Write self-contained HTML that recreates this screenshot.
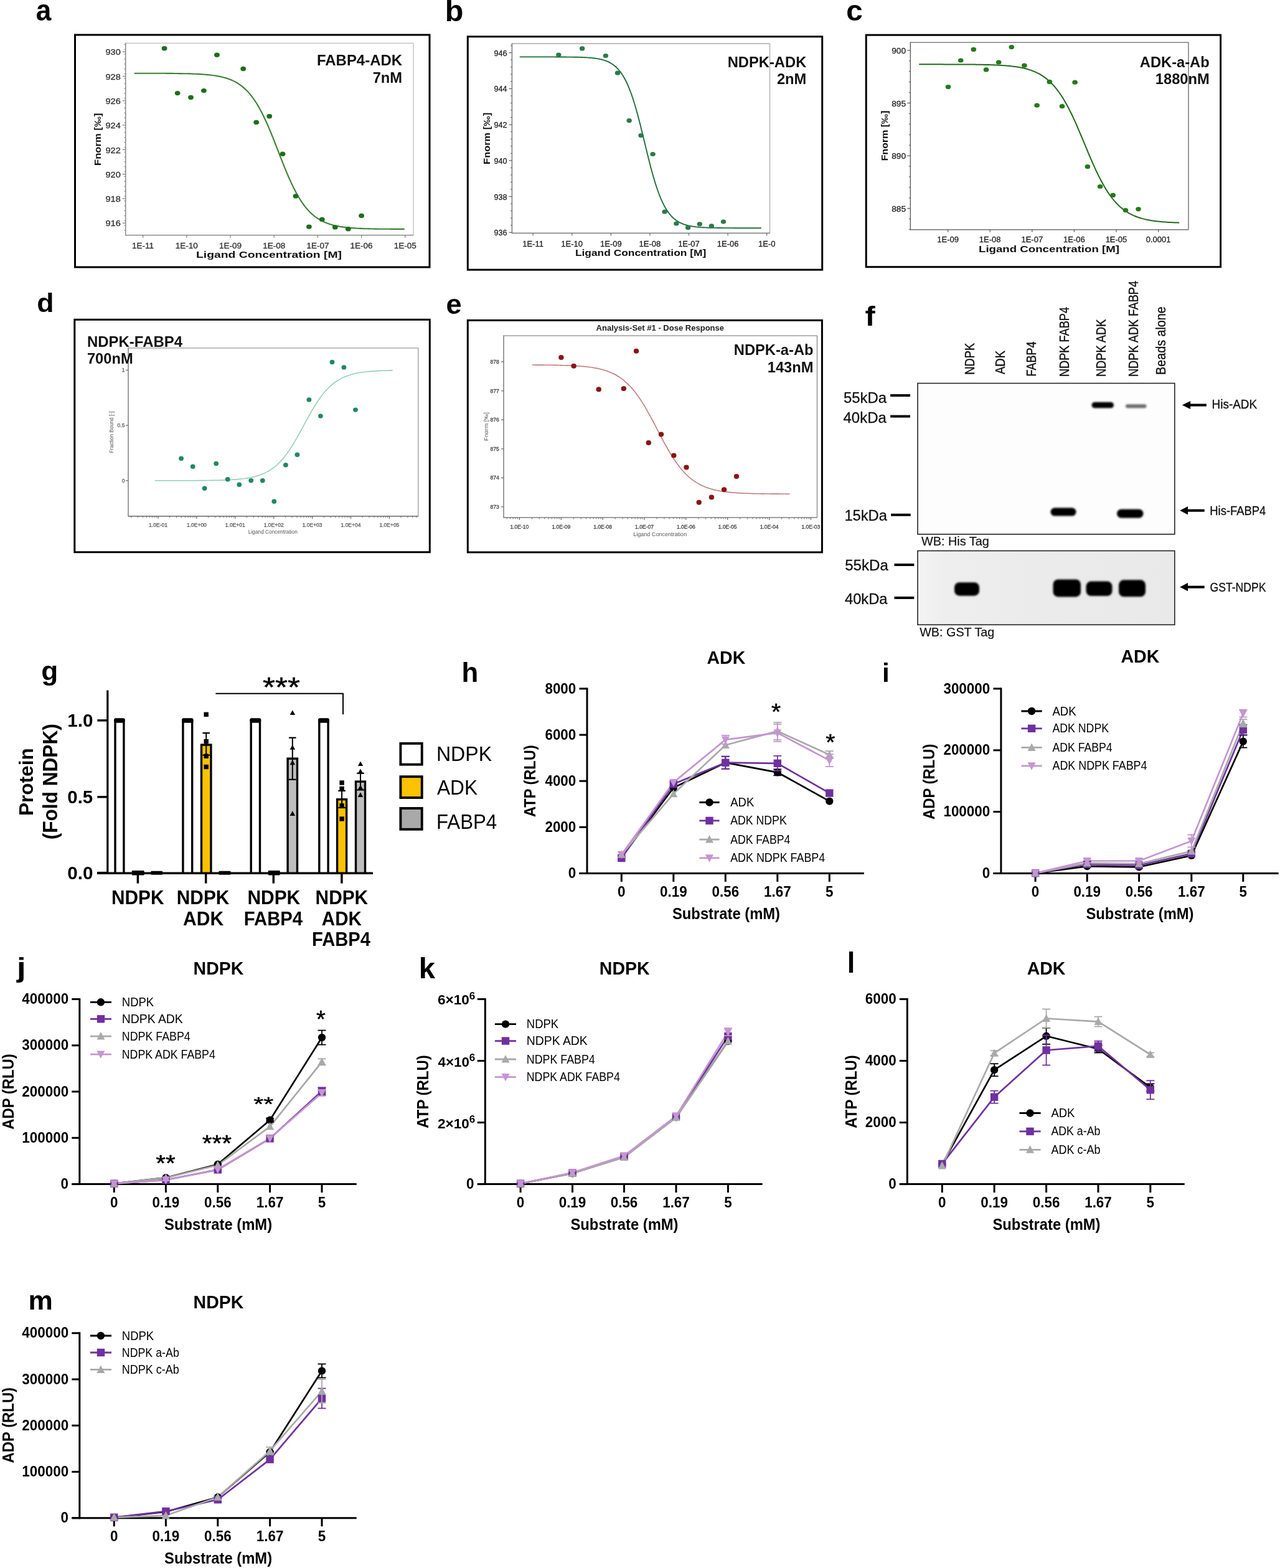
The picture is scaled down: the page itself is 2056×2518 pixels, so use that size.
<!DOCTYPE html>
<html><head><meta charset="utf-8"><title>Figure</title>
<style>html,body{margin:0;padding:0;background:#fff;} svg{display:block;} text{font-family:'Liberation Sans', Arial, sans-serif;}</style>
</head><body>
<svg width="2056" height="2518" viewBox="0 0 2056 2518">
<rect x="0" y="0" width="2056" height="2518" fill="#fff"/>
<rect x="120.5" y="56.0" width="569.5" height="373.0" fill="#fff" stroke="#000" stroke-width="3.0" />
<line x1="201.8" y1="69.4" x2="664.0" y2="69.4" stroke="#bdbdbd" stroke-width="1.3" />
<line x1="664.0" y1="69.4" x2="664.0" y2="377.7" stroke="#bdbdbd" stroke-width="1.3" />
<line x1="201.8" y1="68.8" x2="201.8" y2="378.3" stroke="#7a7a7a" stroke-width="1.3" />
<line x1="201.8" y1="377.7" x2="664.0" y2="377.7" stroke="#7a7a7a" stroke-width="1.3" />
<line x1="196.8" y1="358.2" x2="201.8" y2="358.2" stroke="#7a7a7a" stroke-width="1.2" />
<text x="193.8" y="363.4" font-size="13.5" text-anchor="end" fill="#333" textLength="24.3" lengthAdjust="spacingAndGlyphs" font-family="'Liberation Sans', 'DejaVu Sans', sans-serif" stroke="#333" stroke-width="0.35">916</text>
<line x1="196.8" y1="318.9" x2="201.8" y2="318.9" stroke="#7a7a7a" stroke-width="1.2" />
<text x="193.8" y="324.1" font-size="13.5" text-anchor="end" fill="#333" textLength="24.3" lengthAdjust="spacingAndGlyphs" font-family="'Liberation Sans', 'DejaVu Sans', sans-serif" stroke="#333" stroke-width="0.35">918</text>
<line x1="196.8" y1="279.6" x2="201.8" y2="279.6" stroke="#7a7a7a" stroke-width="1.2" />
<text x="193.8" y="284.8" font-size="13.5" text-anchor="end" fill="#333" textLength="24.3" lengthAdjust="spacingAndGlyphs" font-family="'Liberation Sans', 'DejaVu Sans', sans-serif" stroke="#333" stroke-width="0.35">920</text>
<line x1="196.8" y1="240.3" x2="201.8" y2="240.3" stroke="#7a7a7a" stroke-width="1.2" />
<text x="193.8" y="245.5" font-size="13.5" text-anchor="end" fill="#333" textLength="24.3" lengthAdjust="spacingAndGlyphs" font-family="'Liberation Sans', 'DejaVu Sans', sans-serif" stroke="#333" stroke-width="0.35">922</text>
<line x1="196.8" y1="201.0" x2="201.8" y2="201.0" stroke="#7a7a7a" stroke-width="1.2" />
<text x="193.8" y="206.2" font-size="13.5" text-anchor="end" fill="#333" textLength="24.3" lengthAdjust="spacingAndGlyphs" font-family="'Liberation Sans', 'DejaVu Sans', sans-serif" stroke="#333" stroke-width="0.35">924</text>
<line x1="196.8" y1="161.8" x2="201.8" y2="161.8" stroke="#7a7a7a" stroke-width="1.2" />
<text x="193.8" y="167.0" font-size="13.5" text-anchor="end" fill="#333" textLength="24.3" lengthAdjust="spacingAndGlyphs" font-family="'Liberation Sans', 'DejaVu Sans', sans-serif" stroke="#333" stroke-width="0.35">926</text>
<line x1="196.8" y1="122.5" x2="201.8" y2="122.5" stroke="#7a7a7a" stroke-width="1.2" />
<text x="193.8" y="127.7" font-size="13.5" text-anchor="end" fill="#333" textLength="24.3" lengthAdjust="spacingAndGlyphs" font-family="'Liberation Sans', 'DejaVu Sans', sans-serif" stroke="#333" stroke-width="0.35">928</text>
<line x1="196.8" y1="83.2" x2="201.8" y2="83.2" stroke="#7a7a7a" stroke-width="1.2" />
<text x="193.8" y="88.4" font-size="13.5" text-anchor="end" fill="#333" textLength="24.3" lengthAdjust="spacingAndGlyphs" font-family="'Liberation Sans', 'DejaVu Sans', sans-serif" stroke="#333" stroke-width="0.35">930</text>
<line x1="199.3" y1="369.9" x2="201.8" y2="369.9" stroke="#7a7a7a" stroke-width="1" />
<line x1="199.3" y1="362.1" x2="201.8" y2="362.1" stroke="#7a7a7a" stroke-width="1" />
<line x1="199.3" y1="354.2" x2="201.8" y2="354.2" stroke="#7a7a7a" stroke-width="1" />
<line x1="199.3" y1="346.4" x2="201.8" y2="346.4" stroke="#7a7a7a" stroke-width="1" />
<line x1="199.3" y1="338.5" x2="201.8" y2="338.5" stroke="#7a7a7a" stroke-width="1" />
<line x1="199.3" y1="330.7" x2="201.8" y2="330.7" stroke="#7a7a7a" stroke-width="1" />
<line x1="199.3" y1="322.8" x2="201.8" y2="322.8" stroke="#7a7a7a" stroke-width="1" />
<line x1="199.3" y1="315.0" x2="201.8" y2="315.0" stroke="#7a7a7a" stroke-width="1" />
<line x1="199.3" y1="307.1" x2="201.8" y2="307.1" stroke="#7a7a7a" stroke-width="1" />
<line x1="199.3" y1="299.2" x2="201.8" y2="299.2" stroke="#7a7a7a" stroke-width="1" />
<line x1="199.3" y1="291.4" x2="201.8" y2="291.4" stroke="#7a7a7a" stroke-width="1" />
<line x1="199.3" y1="283.5" x2="201.8" y2="283.5" stroke="#7a7a7a" stroke-width="1" />
<line x1="199.3" y1="275.7" x2="201.8" y2="275.7" stroke="#7a7a7a" stroke-width="1" />
<line x1="199.3" y1="267.8" x2="201.8" y2="267.8" stroke="#7a7a7a" stroke-width="1" />
<line x1="199.3" y1="260.0" x2="201.8" y2="260.0" stroke="#7a7a7a" stroke-width="1" />
<line x1="199.3" y1="252.1" x2="201.8" y2="252.1" stroke="#7a7a7a" stroke-width="1" />
<line x1="199.3" y1="244.2" x2="201.8" y2="244.2" stroke="#7a7a7a" stroke-width="1" />
<line x1="199.3" y1="236.4" x2="201.8" y2="236.4" stroke="#7a7a7a" stroke-width="1" />
<line x1="199.3" y1="228.5" x2="201.8" y2="228.5" stroke="#7a7a7a" stroke-width="1" />
<line x1="199.3" y1="220.7" x2="201.8" y2="220.7" stroke="#7a7a7a" stroke-width="1" />
<line x1="199.3" y1="212.8" x2="201.8" y2="212.8" stroke="#7a7a7a" stroke-width="1" />
<line x1="199.3" y1="205.0" x2="201.8" y2="205.0" stroke="#7a7a7a" stroke-width="1" />
<line x1="199.3" y1="197.1" x2="201.8" y2="197.1" stroke="#7a7a7a" stroke-width="1" />
<line x1="199.3" y1="189.3" x2="201.8" y2="189.3" stroke="#7a7a7a" stroke-width="1" />
<line x1="199.3" y1="181.4" x2="201.8" y2="181.4" stroke="#7a7a7a" stroke-width="1" />
<line x1="199.3" y1="173.5" x2="201.8" y2="173.5" stroke="#7a7a7a" stroke-width="1" />
<line x1="199.3" y1="165.7" x2="201.8" y2="165.7" stroke="#7a7a7a" stroke-width="1" />
<line x1="199.3" y1="157.8" x2="201.8" y2="157.8" stroke="#7a7a7a" stroke-width="1" />
<line x1="199.3" y1="150.0" x2="201.8" y2="150.0" stroke="#7a7a7a" stroke-width="1" />
<line x1="199.3" y1="142.1" x2="201.8" y2="142.1" stroke="#7a7a7a" stroke-width="1" />
<line x1="199.3" y1="134.3" x2="201.8" y2="134.3" stroke="#7a7a7a" stroke-width="1" />
<line x1="199.3" y1="126.4" x2="201.8" y2="126.4" stroke="#7a7a7a" stroke-width="1" />
<line x1="199.3" y1="118.6" x2="201.8" y2="118.6" stroke="#7a7a7a" stroke-width="1" />
<line x1="199.3" y1="110.7" x2="201.8" y2="110.7" stroke="#7a7a7a" stroke-width="1" />
<line x1="199.3" y1="102.8" x2="201.8" y2="102.8" stroke="#7a7a7a" stroke-width="1" />
<line x1="199.3" y1="95.0" x2="201.8" y2="95.0" stroke="#7a7a7a" stroke-width="1" />
<line x1="199.3" y1="87.1" x2="201.8" y2="87.1" stroke="#7a7a7a" stroke-width="1" />
<line x1="199.3" y1="79.3" x2="201.8" y2="79.3" stroke="#7a7a7a" stroke-width="1" />
<line x1="199.3" y1="71.4" x2="201.8" y2="71.4" stroke="#7a7a7a" stroke-width="1" />
<line x1="229.6" y1="377.7" x2="229.6" y2="381.7" stroke="#7a7a7a" stroke-width="1.2" />
<text x="229.6" y="398.5" font-size="13.5" text-anchor="middle" fill="#333" font-family="'Liberation Sans', 'DejaVu Sans', sans-serif" stroke="#333" stroke-width="0.35">1E-11</text>
<line x1="299.8" y1="377.7" x2="299.8" y2="381.7" stroke="#7a7a7a" stroke-width="1.2" />
<text x="299.8" y="398.5" font-size="13.5" text-anchor="middle" fill="#333" font-family="'Liberation Sans', 'DejaVu Sans', sans-serif" stroke="#333" stroke-width="0.35">1E-10</text>
<line x1="370.0" y1="377.7" x2="370.0" y2="381.7" stroke="#7a7a7a" stroke-width="1.2" />
<text x="370.0" y="398.5" font-size="13.5" text-anchor="middle" fill="#333" font-family="'Liberation Sans', 'DejaVu Sans', sans-serif" stroke="#333" stroke-width="0.35">1E-09</text>
<line x1="440.2" y1="377.7" x2="440.2" y2="381.7" stroke="#7a7a7a" stroke-width="1.2" />
<text x="440.2" y="398.5" font-size="13.5" text-anchor="middle" fill="#333" font-family="'Liberation Sans', 'DejaVu Sans', sans-serif" stroke="#333" stroke-width="0.35">1E-08</text>
<line x1="510.4" y1="377.7" x2="510.4" y2="381.7" stroke="#7a7a7a" stroke-width="1.2" />
<text x="510.4" y="398.5" font-size="13.5" text-anchor="middle" fill="#333" font-family="'Liberation Sans', 'DejaVu Sans', sans-serif" stroke="#333" stroke-width="0.35">1E-07</text>
<line x1="580.6" y1="377.7" x2="580.6" y2="381.7" stroke="#7a7a7a" stroke-width="1.2" />
<text x="580.6" y="398.5" font-size="13.5" text-anchor="middle" fill="#333" font-family="'Liberation Sans', 'DejaVu Sans', sans-serif" stroke="#333" stroke-width="0.35">1E-06</text>
<line x1="650.8" y1="377.7" x2="650.8" y2="381.7" stroke="#7a7a7a" stroke-width="1.2" />
<text x="650.8" y="398.5" font-size="13.5" text-anchor="middle" fill="#333" font-family="'Liberation Sans', 'DejaVu Sans', sans-serif" stroke="#333" stroke-width="0.35">1E-05</text>
<text x="432.0" y="414.0" font-size="15.5" font-weight="bold" text-anchor="middle" fill="#111" textLength="234.0" lengthAdjust="spacingAndGlyphs" font-family="'Liberation Sans', 'DejaVu Sans', sans-serif" >Ligand Concentration [M]</text>
<text x="162.0" y="223.8" font-size="15.5" font-weight="bold" text-anchor="middle" fill="#111" textLength="84.5" lengthAdjust="spacingAndGlyphs" transform="rotate(-90 162.0 223.8)" font-family="'Liberation Sans', 'DejaVu Sans', sans-serif" >Fnorm [‰]</text>
<polyline points="215.7,117.7 217.7,117.7 219.7,117.7 221.7,117.7 223.7,117.7 225.7,117.7 227.7,117.7 229.7,117.7 231.7,117.7 233.7,117.7 235.7,117.7 237.7,117.7 239.7,117.7 241.7,117.8 243.7,117.8 245.7,117.8 247.7,117.8 249.7,117.8 251.7,117.8 253.7,117.8 255.7,117.8 257.7,117.8 259.7,117.8 261.7,117.8 263.7,117.8 265.7,117.8 267.7,117.9 269.7,117.9 271.7,117.9 273.7,117.9 275.7,117.9 277.7,117.9 279.7,118.0 281.7,118.0 283.7,118.0 285.7,118.0 287.7,118.1 289.7,118.1 291.7,118.1 293.7,118.2 295.7,118.2 297.7,118.2 299.7,118.3 301.7,118.3 303.7,118.4 305.7,118.4 307.7,118.5 309.7,118.6 311.7,118.7 313.7,118.7 315.7,118.8 317.7,118.9 319.7,119.0 321.7,119.1 323.7,119.3 325.7,119.4 327.7,119.5 329.7,119.7 331.7,119.9 333.7,120.1 335.7,120.3 337.7,120.5 339.7,120.7 341.7,121.0 343.7,121.2 345.7,121.5 347.7,121.9 349.7,122.2 351.7,122.6 353.7,123.0 355.7,123.4 357.7,123.9 359.7,124.4 361.7,125.0 363.7,125.6 365.7,126.3 367.7,127.0 369.7,127.7 371.7,128.5 373.7,129.4 375.7,130.4 377.7,131.4 379.7,132.5 381.7,133.7 383.7,135.0 385.7,136.4 387.7,137.8 389.7,139.4 391.7,141.1 393.7,142.9 395.7,144.8 397.7,146.9 399.7,149.1 401.7,151.4 403.7,153.9 405.7,156.5 407.7,159.3 409.7,162.2 411.7,165.3 413.7,168.6 415.7,172.0 417.7,175.6 419.7,179.3 421.7,183.2 423.7,187.3 425.7,191.5 427.7,195.8 429.7,200.3 431.7,204.9 433.7,209.7 435.7,214.5 437.7,219.4 439.7,224.4 441.7,229.5 443.7,234.6 445.7,239.8 447.7,244.9 449.7,250.1 451.7,255.2 453.7,260.2 455.7,265.3 457.7,270.2 459.7,275.1 461.7,279.8 463.7,284.5 465.7,289.0 467.7,293.4 469.7,297.6 471.7,301.7 473.7,305.6 475.7,309.4 477.7,313.0 479.7,316.5 481.7,319.7 483.7,322.9 485.7,325.8 487.7,328.6 489.7,331.3 491.7,333.8 493.7,336.2 495.7,338.4 497.7,340.5 499.7,342.4 501.7,344.2 503.7,346.0 505.7,347.6 507.7,349.0 509.7,350.4 511.7,351.7 513.7,352.9 515.7,354.1 517.7,355.1 519.7,356.1 521.7,357.0 523.7,357.8 525.7,358.6 527.7,359.3 529.7,360.0 531.7,360.6 533.7,361.2 535.7,361.7 537.7,362.2 539.7,362.6 541.7,363.0 543.7,363.4 545.7,363.8 547.7,364.1 549.7,364.4 551.7,364.7 553.7,364.9 555.7,365.2 557.7,365.4 559.7,365.6 561.7,365.8 563.7,366.0 565.7,366.1 567.7,366.3 569.7,366.4 571.7,366.5 573.7,366.7 575.7,366.8 577.7,366.9 579.7,366.9 581.7,367.0 583.7,367.1 585.7,367.2 587.7,367.2 589.7,367.3 591.7,367.4 593.7,367.4 595.7,367.5 597.7,367.5 599.7,367.5 601.7,367.6 603.7,367.6 605.7,367.6 607.7,367.7 609.7,367.7 611.7,367.7 613.7,367.7 615.7,367.8 617.7,367.8 619.7,367.8 621.7,367.8 623.7,367.8 625.7,367.8 627.7,367.9 629.7,367.9 631.7,367.9 633.7,367.9 635.7,367.9 637.7,367.9 639.7,367.9 641.7,367.9 643.7,367.9 645.7,367.9 647.7,367.9 649.7,367.9" fill="none" stroke="#3a8030" stroke-width="2.1" stroke-linejoin="round" />
<ellipse cx="264.1" cy="77.8" rx="4.4" ry="3.7" fill="#1c6e1c"/>
<ellipse cx="285.1" cy="149.6" rx="4.4" ry="3.7" fill="#1c6e1c"/>
<ellipse cx="306.5" cy="156.5" rx="4.4" ry="3.7" fill="#1c6e1c"/>
<ellipse cx="327.4" cy="145.6" rx="4.4" ry="3.7" fill="#1c6e1c"/>
<ellipse cx="348.4" cy="88.3" rx="4.4" ry="3.7" fill="#1c6e1c"/>
<ellipse cx="390.7" cy="110.5" rx="4.4" ry="3.7" fill="#1c6e1c"/>
<ellipse cx="411.7" cy="196.4" rx="4.4" ry="3.7" fill="#1c6e1c"/>
<ellipse cx="432.7" cy="186.7" rx="4.4" ry="3.7" fill="#1c6e1c"/>
<ellipse cx="454.0" cy="247.2" rx="4.4" ry="3.7" fill="#1c6e1c"/>
<ellipse cx="475.0" cy="314.9" rx="4.4" ry="3.7" fill="#1c6e1c"/>
<ellipse cx="496.4" cy="364.1" rx="4.4" ry="3.7" fill="#1c6e1c"/>
<ellipse cx="517.3" cy="352.4" rx="4.4" ry="3.7" fill="#1c6e1c"/>
<ellipse cx="538.3" cy="364.9" rx="4.4" ry="3.7" fill="#1c6e1c"/>
<ellipse cx="559.3" cy="367.7" rx="4.4" ry="3.7" fill="#1c6e1c"/>
<ellipse cx="580.6" cy="346.4" rx="4.4" ry="3.7" fill="#1c6e1c"/>
<text x="646.0" y="104.8" font-size="23.7" font-weight="bold" text-anchor="end" fill="#111" textLength="137.0" lengthAdjust="spacingAndGlyphs" >FABP4-ADK</text>
<text x="646.0" y="132.8" font-size="23.7" font-weight="bold" text-anchor="end" fill="#111" >7nM</text>
<rect x="751.3" y="58.8" width="569.4" height="374.4" fill="#fff" stroke="#000" stroke-width="3.0" />
<line x1="822.4" y1="70.0" x2="1236.5" y2="70.0" stroke="#aaa" stroke-width="1.3" />
<line x1="1236.5" y1="70.0" x2="1236.5" y2="374.4" stroke="#aaa" stroke-width="1.3" />
<line x1="822.4" y1="69.4" x2="822.4" y2="375.0" stroke="#666" stroke-width="1.3" />
<line x1="822.4" y1="374.4" x2="1236.5" y2="374.4" stroke="#666" stroke-width="1.3" />
<line x1="817.4" y1="373.3" x2="822.4" y2="373.3" stroke="#666" stroke-width="1.2" />
<text x="814.5" y="378.3" font-size="13" text-anchor="end" fill="#222" textLength="21.0" lengthAdjust="spacingAndGlyphs" font-family="'Liberation Sans', 'DejaVu Sans', sans-serif" stroke="#222" stroke-width="0.3">936</text>
<line x1="817.4" y1="315.6" x2="822.4" y2="315.6" stroke="#666" stroke-width="1.2" />
<text x="814.5" y="320.6" font-size="13" text-anchor="end" fill="#222" textLength="21.0" lengthAdjust="spacingAndGlyphs" font-family="'Liberation Sans', 'DejaVu Sans', sans-serif" stroke="#222" stroke-width="0.3">938</text>
<line x1="817.4" y1="257.8" x2="822.4" y2="257.8" stroke="#666" stroke-width="1.2" />
<text x="814.5" y="262.8" font-size="13" text-anchor="end" fill="#222" textLength="21.0" lengthAdjust="spacingAndGlyphs" font-family="'Liberation Sans', 'DejaVu Sans', sans-serif" stroke="#222" stroke-width="0.3">940</text>
<line x1="817.4" y1="200.1" x2="822.4" y2="200.1" stroke="#666" stroke-width="1.2" />
<text x="814.5" y="205.1" font-size="13" text-anchor="end" fill="#222" textLength="21.0" lengthAdjust="spacingAndGlyphs" font-family="'Liberation Sans', 'DejaVu Sans', sans-serif" stroke="#222" stroke-width="0.3">942</text>
<line x1="817.4" y1="142.3" x2="822.4" y2="142.3" stroke="#666" stroke-width="1.2" />
<text x="814.5" y="147.3" font-size="13" text-anchor="end" fill="#222" textLength="21.0" lengthAdjust="spacingAndGlyphs" font-family="'Liberation Sans', 'DejaVu Sans', sans-serif" stroke="#222" stroke-width="0.3">944</text>
<line x1="817.4" y1="84.6" x2="822.4" y2="84.6" stroke="#666" stroke-width="1.2" />
<text x="814.5" y="89.6" font-size="13" text-anchor="end" fill="#222" textLength="21.0" lengthAdjust="spacingAndGlyphs" font-family="'Liberation Sans', 'DejaVu Sans', sans-serif" stroke="#222" stroke-width="0.3">946</text>
<line x1="819.9" y1="361.8" x2="822.4" y2="361.8" stroke="#666" stroke-width="1" />
<line x1="819.9" y1="350.2" x2="822.4" y2="350.2" stroke="#666" stroke-width="1" />
<line x1="819.9" y1="338.7" x2="822.4" y2="338.7" stroke="#666" stroke-width="1" />
<line x1="819.9" y1="327.1" x2="822.4" y2="327.1" stroke="#666" stroke-width="1" />
<line x1="819.9" y1="304.0" x2="822.4" y2="304.0" stroke="#666" stroke-width="1" />
<line x1="819.9" y1="292.5" x2="822.4" y2="292.5" stroke="#666" stroke-width="1" />
<line x1="819.9" y1="280.9" x2="822.4" y2="280.9" stroke="#666" stroke-width="1" />
<line x1="819.9" y1="269.4" x2="822.4" y2="269.4" stroke="#666" stroke-width="1" />
<line x1="819.9" y1="246.3" x2="822.4" y2="246.3" stroke="#666" stroke-width="1" />
<line x1="819.9" y1="234.7" x2="822.4" y2="234.7" stroke="#666" stroke-width="1" />
<line x1="819.9" y1="223.2" x2="822.4" y2="223.2" stroke="#666" stroke-width="1" />
<line x1="819.9" y1="211.6" x2="822.4" y2="211.6" stroke="#666" stroke-width="1" />
<line x1="819.9" y1="188.5" x2="822.4" y2="188.5" stroke="#666" stroke-width="1" />
<line x1="819.9" y1="177.0" x2="822.4" y2="177.0" stroke="#666" stroke-width="1" />
<line x1="819.9" y1="165.4" x2="822.4" y2="165.4" stroke="#666" stroke-width="1" />
<line x1="819.9" y1="153.9" x2="822.4" y2="153.9" stroke="#666" stroke-width="1" />
<line x1="819.9" y1="130.8" x2="822.4" y2="130.8" stroke="#666" stroke-width="1" />
<line x1="819.9" y1="119.2" x2="822.4" y2="119.2" stroke="#666" stroke-width="1" />
<line x1="819.9" y1="107.7" x2="822.4" y2="107.7" stroke="#666" stroke-width="1" />
<line x1="819.9" y1="96.1" x2="822.4" y2="96.1" stroke="#666" stroke-width="1" />
<line x1="819.9" y1="73.1" x2="822.4" y2="73.1" stroke="#666" stroke-width="1" />
<line x1="856.1" y1="374.4" x2="856.1" y2="378.4" stroke="#666" stroke-width="1.2" />
<text x="856.1" y="395.5" font-size="13" text-anchor="middle" fill="#222" font-family="'Liberation Sans', 'DejaVu Sans', sans-serif" stroke="#222" stroke-width="0.3">1E-11</text>
<line x1="918.7" y1="374.4" x2="918.7" y2="378.4" stroke="#666" stroke-width="1.2" />
<text x="918.7" y="395.5" font-size="13" text-anchor="middle" fill="#222" font-family="'Liberation Sans', 'DejaVu Sans', sans-serif" stroke="#222" stroke-width="0.3">1E-10</text>
<line x1="981.3" y1="374.4" x2="981.3" y2="378.4" stroke="#666" stroke-width="1.2" />
<text x="981.3" y="395.5" font-size="13" text-anchor="middle" fill="#222" font-family="'Liberation Sans', 'DejaVu Sans', sans-serif" stroke="#222" stroke-width="0.3">1E-09</text>
<line x1="1043.9" y1="374.4" x2="1043.9" y2="378.4" stroke="#666" stroke-width="1.2" />
<text x="1043.9" y="395.5" font-size="13" text-anchor="middle" fill="#222" font-family="'Liberation Sans', 'DejaVu Sans', sans-serif" stroke="#222" stroke-width="0.3">1E-08</text>
<line x1="1106.5" y1="374.4" x2="1106.5" y2="378.4" stroke="#666" stroke-width="1.2" />
<text x="1106.5" y="395.5" font-size="13" text-anchor="middle" fill="#222" font-family="'Liberation Sans', 'DejaVu Sans', sans-serif" stroke="#222" stroke-width="0.3">1E-07</text>
<line x1="1169.1" y1="374.4" x2="1169.1" y2="378.4" stroke="#666" stroke-width="1.2" />
<text x="1169.1" y="395.5" font-size="13" text-anchor="middle" fill="#222" font-family="'Liberation Sans', 'DejaVu Sans', sans-serif" stroke="#222" stroke-width="0.3">1E-06</text>
<line x1="1231.7" y1="374.4" x2="1231.7" y2="378.4" stroke="#666" stroke-width="1.2" />
<text x="1231.7" y="395.5" font-size="13" text-anchor="middle" fill="#222" font-family="'Liberation Sans', 'DejaVu Sans', sans-serif" stroke="#222" stroke-width="0.3">1E-0</text>
<text x="1029.1" y="410.7" font-size="14.5" font-weight="bold" text-anchor="middle" fill="#111" textLength="210.4" lengthAdjust="spacingAndGlyphs" font-family="'Liberation Sans', 'DejaVu Sans', sans-serif" >Ligand Concentration [M]</text>
<text x="787.0" y="222.4" font-size="14.5" font-weight="bold" text-anchor="middle" fill="#111" textLength="83.0" lengthAdjust="spacingAndGlyphs" transform="rotate(-90 787.0 222.4)" font-family="'Liberation Sans', 'DejaVu Sans', sans-serif" >Fnorm [‰]</text>
<polyline points="834.8,91.4 836.8,91.4 838.8,91.4 840.8,91.4 842.8,91.4 844.8,91.4 846.8,91.4 848.8,91.4 850.8,91.4 852.8,91.4 854.8,91.4 856.8,91.4 858.8,91.4 860.8,91.4 862.8,91.4 864.8,91.4 866.8,91.4 868.8,91.4 870.8,91.4 872.8,91.4 874.8,91.4 876.8,91.4 878.8,91.4 880.8,91.4 882.8,91.4 884.8,91.4 886.8,91.4 888.8,91.4 890.8,91.4 892.8,91.5 894.8,91.5 896.8,91.5 898.8,91.5 900.8,91.5 902.8,91.5 904.8,91.5 906.8,91.5 908.8,91.5 910.8,91.6 912.8,91.6 914.8,91.6 916.8,91.6 918.8,91.6 920.8,91.7 922.8,91.7 924.8,91.8 926.8,91.8 928.8,91.8 930.8,91.9 932.8,92.0 934.8,92.0 936.8,92.1 938.8,92.2 940.8,92.3 942.8,92.4 944.8,92.6 946.8,92.7 948.8,92.9 950.8,93.1 952.8,93.3 954.8,93.5 956.8,93.8 958.8,94.1 960.8,94.4 962.8,94.8 964.8,95.3 966.8,95.7 968.8,96.3 970.8,96.9 972.8,97.6 974.8,98.4 976.8,99.2 978.8,100.2 980.8,101.3 982.8,102.5 984.8,103.8 986.8,105.4 988.8,107.0 990.8,108.9 992.8,111.0 994.8,113.3 996.8,115.9 998.8,118.7 1000.8,121.8 1002.8,125.2 1004.8,129.0 1006.8,133.0 1008.8,137.5 1010.8,142.3 1012.8,147.5 1014.8,153.0 1016.8,159.0 1018.8,165.3 1020.8,172.0 1022.8,179.0 1024.8,186.4 1026.8,194.0 1028.8,201.8 1030.8,209.9 1032.8,218.1 1034.8,226.3 1036.8,234.6 1038.8,242.8 1040.8,251.0 1042.8,258.9 1044.8,266.7 1046.8,274.2 1048.8,281.4 1050.8,288.3 1052.8,294.9 1054.8,301.0 1056.8,306.8 1058.8,312.3 1060.8,317.3 1062.8,321.9 1064.8,326.2 1066.8,330.2 1068.8,333.8 1070.8,337.1 1072.8,340.1 1074.8,342.8 1076.8,345.2 1078.8,347.5 1080.8,349.5 1082.8,351.3 1084.8,352.9 1086.8,354.3 1088.8,355.6 1090.8,356.8 1092.8,357.8 1094.8,358.7 1096.8,359.6 1098.8,360.3 1100.8,361.0 1102.8,361.5 1104.8,362.1 1106.8,362.5 1108.8,362.9 1110.8,363.3 1112.8,363.6 1114.8,363.9 1116.8,364.2 1118.8,364.4 1120.8,364.6 1122.8,364.8 1124.8,364.9 1126.8,365.1 1128.8,365.2 1130.8,365.3 1132.8,365.4 1134.8,365.5 1136.8,365.6 1138.8,365.7 1140.8,365.7 1142.8,365.8 1144.8,365.8 1146.8,365.9 1148.8,365.9 1150.8,365.9 1152.8,366.0 1154.8,366.0 1156.8,366.0 1158.8,366.0 1160.8,366.1 1162.8,366.1 1164.8,366.1 1166.8,366.1 1168.8,366.1 1170.8,366.1 1172.8,366.1 1174.8,366.1 1176.8,366.1 1178.8,366.2 1180.8,366.2 1182.8,366.2 1184.8,366.2 1186.8,366.2 1188.8,366.2 1190.8,366.2 1192.8,366.2 1194.8,366.2 1196.8,366.2 1198.8,366.2 1200.8,366.2 1202.8,366.2 1204.8,366.2 1206.8,366.2 1208.8,366.2 1210.8,366.2 1212.8,366.2 1214.8,366.2 1216.8,366.2 1218.8,366.2 1220.8,366.2 1222.8,366.2" fill="none" stroke="#1f6e3a" stroke-width="1.9" stroke-linejoin="round" />
<ellipse cx="897.3" cy="88.0" rx="4.2" ry="3.6" fill="#2a7a48"/>
<ellipse cx="935.1" cy="77.9" rx="4.2" ry="3.6" fill="#2a7a48"/>
<ellipse cx="972.9" cy="89.5" rx="4.2" ry="3.6" fill="#2a7a48"/>
<ellipse cx="992.0" cy="117.2" rx="4.2" ry="3.6" fill="#2a7a48"/>
<ellipse cx="1010.7" cy="193.6" rx="4.2" ry="3.6" fill="#2a7a48"/>
<ellipse cx="1029.5" cy="217.5" rx="4.2" ry="3.6" fill="#2a7a48"/>
<ellipse cx="1048.6" cy="247.5" rx="4.2" ry="3.6" fill="#2a7a48"/>
<ellipse cx="1067.6" cy="340.0" rx="4.2" ry="3.6" fill="#2a7a48"/>
<ellipse cx="1086.4" cy="359.0" rx="4.2" ry="3.6" fill="#2a7a48"/>
<ellipse cx="1105.1" cy="365.4" rx="4.2" ry="3.6" fill="#2a7a48"/>
<ellipse cx="1123.8" cy="359.8" rx="4.2" ry="3.6" fill="#2a7a48"/>
<ellipse cx="1142.9" cy="362.8" rx="4.2" ry="3.6" fill="#2a7a48"/>
<ellipse cx="1162.0" cy="356.0" rx="4.2" ry="3.6" fill="#2a7a48"/>
<text x="1295.3" y="107.5" font-size="23.7" font-weight="bold" text-anchor="end" fill="#111" textLength="126.6" lengthAdjust="spacingAndGlyphs" >NDPK-ADK</text>
<text x="1295.3" y="134.8" font-size="23.7" font-weight="bold" text-anchor="end" fill="#111" >2nM</text>
<rect x="1391.2" y="56.2" width="569.4" height="372.5" fill="#fff" stroke="#000" stroke-width="3.0" />
<line x1="1462.3" y1="68.1" x2="1909.0" y2="68.1" stroke="#666" stroke-width="1.3" />
<line x1="1909.0" y1="68.1" x2="1909.0" y2="368.8" stroke="#666" stroke-width="1.3" />
<line x1="1462.3" y1="67.5" x2="1462.3" y2="369.4" stroke="#555" stroke-width="1.3" />
<line x1="1462.3" y1="368.8" x2="1909.0" y2="368.8" stroke="#555" stroke-width="1.3" />
<line x1="1457.3" y1="80.9" x2="1462.3" y2="80.9" stroke="#555" stroke-width="1.2" />
<text x="1455.0" y="85.9" font-size="13" text-anchor="end" fill="#222" textLength="22.8" lengthAdjust="spacingAndGlyphs" font-family="'Liberation Sans', 'DejaVu Sans', sans-serif" stroke="#222" stroke-width="0.3">900</text>
<line x1="1457.3" y1="165.5" x2="1462.3" y2="165.5" stroke="#555" stroke-width="1.2" />
<text x="1455.0" y="170.5" font-size="13" text-anchor="end" fill="#222" textLength="22.8" lengthAdjust="spacingAndGlyphs" font-family="'Liberation Sans', 'DejaVu Sans', sans-serif" stroke="#222" stroke-width="0.3">895</text>
<line x1="1457.3" y1="250.1" x2="1462.3" y2="250.1" stroke="#555" stroke-width="1.2" />
<text x="1455.0" y="255.1" font-size="13" text-anchor="end" fill="#222" textLength="22.8" lengthAdjust="spacingAndGlyphs" font-family="'Liberation Sans', 'DejaVu Sans', sans-serif" stroke="#222" stroke-width="0.3">890</text>
<line x1="1457.3" y1="334.7" x2="1462.3" y2="334.7" stroke="#555" stroke-width="1.2" />
<text x="1455.0" y="339.7" font-size="13" text-anchor="end" fill="#222" textLength="22.8" lengthAdjust="spacingAndGlyphs" font-family="'Liberation Sans', 'DejaVu Sans', sans-serif" stroke="#222" stroke-width="0.3">885</text>
<line x1="1459.8" y1="368.5" x2="1462.3" y2="368.5" stroke="#555" stroke-width="1" />
<line x1="1459.8" y1="351.6" x2="1462.3" y2="351.6" stroke="#555" stroke-width="1" />
<line x1="1459.8" y1="317.8" x2="1462.3" y2="317.8" stroke="#555" stroke-width="1" />
<line x1="1459.8" y1="300.9" x2="1462.3" y2="300.9" stroke="#555" stroke-width="1" />
<line x1="1459.8" y1="283.9" x2="1462.3" y2="283.9" stroke="#555" stroke-width="1" />
<line x1="1459.8" y1="267.0" x2="1462.3" y2="267.0" stroke="#555" stroke-width="1" />
<line x1="1459.8" y1="233.2" x2="1462.3" y2="233.2" stroke="#555" stroke-width="1" />
<line x1="1459.8" y1="216.3" x2="1462.3" y2="216.3" stroke="#555" stroke-width="1" />
<line x1="1459.8" y1="199.3" x2="1462.3" y2="199.3" stroke="#555" stroke-width="1" />
<line x1="1459.8" y1="182.4" x2="1462.3" y2="182.4" stroke="#555" stroke-width="1" />
<line x1="1459.8" y1="148.6" x2="1462.3" y2="148.6" stroke="#555" stroke-width="1" />
<line x1="1459.8" y1="131.7" x2="1462.3" y2="131.7" stroke="#555" stroke-width="1" />
<line x1="1459.8" y1="114.7" x2="1462.3" y2="114.7" stroke="#555" stroke-width="1" />
<line x1="1459.8" y1="97.8" x2="1462.3" y2="97.8" stroke="#555" stroke-width="1" />
<line x1="1522.6" y1="368.8" x2="1522.6" y2="372.8" stroke="#555" stroke-width="1.2" />
<text x="1522.6" y="389.4" font-size="13" text-anchor="middle" fill="#222" font-family="'Liberation Sans', 'DejaVu Sans', sans-serif" stroke="#222" stroke-width="0.3">1E-09</text>
<line x1="1590.2" y1="368.8" x2="1590.2" y2="372.8" stroke="#555" stroke-width="1.2" />
<text x="1590.2" y="389.4" font-size="13" text-anchor="middle" fill="#222" font-family="'Liberation Sans', 'DejaVu Sans', sans-serif" stroke="#222" stroke-width="0.3">1E-08</text>
<line x1="1657.8" y1="368.8" x2="1657.8" y2="372.8" stroke="#555" stroke-width="1.2" />
<text x="1657.8" y="389.4" font-size="13" text-anchor="middle" fill="#222" font-family="'Liberation Sans', 'DejaVu Sans', sans-serif" stroke="#222" stroke-width="0.3">1E-07</text>
<line x1="1725.4" y1="368.8" x2="1725.4" y2="372.8" stroke="#555" stroke-width="1.2" />
<text x="1725.4" y="389.4" font-size="13" text-anchor="middle" fill="#222" font-family="'Liberation Sans', 'DejaVu Sans', sans-serif" stroke="#222" stroke-width="0.3">1E-06</text>
<line x1="1793.0" y1="368.8" x2="1793.0" y2="372.8" stroke="#555" stroke-width="1.2" />
<text x="1793.0" y="389.4" font-size="13" text-anchor="middle" fill="#222" font-family="'Liberation Sans', 'DejaVu Sans', sans-serif" stroke="#222" stroke-width="0.3">1E-05</text>
<line x1="1860.6" y1="368.8" x2="1860.6" y2="372.8" stroke="#555" stroke-width="1.2" />
<text x="1860.6" y="389.4" font-size="13" text-anchor="middle" fill="#222" font-family="'Liberation Sans', 'DejaVu Sans', sans-serif" stroke="#222" stroke-width="0.3">0.0001</text>
<text x="1685.0" y="405.1" font-size="15" font-weight="bold" text-anchor="middle" fill="#111" textLength="226.0" lengthAdjust="spacingAndGlyphs" font-family="'Liberation Sans', 'DejaVu Sans', sans-serif" >Ligand Concentration [M]</text>
<text x="1425.5" y="218.0" font-size="15" font-weight="bold" text-anchor="middle" fill="#111" textLength="80.5" lengthAdjust="spacingAndGlyphs" transform="rotate(-90 1425.5 218.0)" font-family="'Liberation Sans', 'DejaVu Sans', sans-serif" >Fnorm [‰]</text>
<polyline points="1476.2,103.3 1478.2,103.3 1480.2,103.3 1482.2,103.3 1484.2,103.3 1486.2,103.3 1488.2,103.3 1490.2,103.3 1492.2,103.3 1494.2,103.3 1496.2,103.3 1498.2,103.3 1500.2,103.3 1502.2,103.3 1504.2,103.3 1506.2,103.3 1508.2,103.3 1510.2,103.3 1512.2,103.3 1514.2,103.3 1516.2,103.4 1518.2,103.4 1520.2,103.4 1522.2,103.4 1524.2,103.4 1526.2,103.4 1528.2,103.4 1530.2,103.4 1532.2,103.4 1534.2,103.4 1536.2,103.4 1538.2,103.4 1540.2,103.4 1542.2,103.4 1544.2,103.4 1546.2,103.5 1548.2,103.5 1550.2,103.5 1552.2,103.5 1554.2,103.5 1556.2,103.5 1558.2,103.5 1560.2,103.6 1562.2,103.6 1564.2,103.6 1566.2,103.6 1568.2,103.7 1570.2,103.7 1572.2,103.7 1574.2,103.8 1576.2,103.8 1578.2,103.8 1580.2,103.9 1582.2,103.9 1584.2,104.0 1586.2,104.0 1588.2,104.1 1590.2,104.1 1592.2,104.2 1594.2,104.3 1596.2,104.3 1598.2,104.4 1600.2,104.5 1602.2,104.6 1604.2,104.7 1606.2,104.8 1608.2,104.9 1610.2,105.1 1612.2,105.2 1614.2,105.3 1616.2,105.5 1618.2,105.7 1620.2,105.8 1622.2,106.0 1624.2,106.3 1626.2,106.5 1628.2,106.7 1630.2,107.0 1632.2,107.3 1634.2,107.6 1636.2,107.9 1638.2,108.3 1640.2,108.7 1642.2,109.1 1644.2,109.5 1646.2,110.0 1648.2,110.5 1650.2,111.0 1652.2,111.6 1654.2,112.3 1656.2,112.9 1658.2,113.7 1660.2,114.4 1662.2,115.3 1664.2,116.2 1666.2,117.1 1668.2,118.1 1670.2,119.2 1672.2,120.4 1674.2,121.6 1676.2,123.0 1678.2,124.4 1680.2,125.9 1682.2,127.5 1684.2,129.2 1686.2,131.0 1688.2,132.9 1690.2,135.0 1692.2,137.1 1694.2,139.4 1696.2,141.8 1698.2,144.3 1700.2,147.0 1702.2,149.8 1704.2,152.7 1706.2,155.8 1708.2,159.0 1710.2,162.4 1712.2,165.9 1714.2,169.5 1716.2,173.3 1718.2,177.2 1720.2,181.2 1722.2,185.3 1724.2,189.6 1726.2,193.9 1728.2,198.4 1730.2,203.0 1732.2,207.6 1734.2,212.3 1736.2,217.0 1738.2,221.8 1740.2,226.6 1742.2,231.4 1744.2,236.2 1746.2,241.0 1748.2,245.8 1750.2,250.5 1752.2,255.2 1754.2,259.8 1756.2,264.3 1758.2,268.7 1760.2,273.1 1762.2,277.3 1764.2,281.4 1766.2,285.4 1768.2,289.3 1770.2,293.0 1772.2,296.6 1774.2,300.1 1776.2,303.4 1778.2,306.6 1780.2,309.7 1782.2,312.6 1784.2,315.4 1786.2,318.0 1788.2,320.5 1790.2,322.9 1792.2,325.1 1794.2,327.3 1796.2,329.3 1798.2,331.2 1800.2,333.0 1802.2,334.6 1804.2,336.2 1806.2,337.7 1808.2,339.1 1810.2,340.4 1812.2,341.6 1814.2,342.8 1816.2,343.9 1818.2,344.9 1820.2,345.8 1822.2,346.7 1824.2,347.5 1826.2,348.3 1828.2,349.0 1830.2,349.7 1832.2,350.3 1834.2,350.9 1836.2,351.4 1838.2,351.9 1840.2,352.4 1842.2,352.8 1844.2,353.2 1846.2,353.6 1848.2,353.9 1850.2,354.3 1852.2,354.6 1854.2,354.9 1856.2,355.1 1858.2,355.4 1860.2,355.6 1862.2,355.8 1864.2,356.0 1866.2,356.2 1868.2,356.3 1870.2,356.5 1872.2,356.6 1874.2,356.8 1876.2,356.9 1878.2,357.0 1880.2,357.1 1882.2,357.2 1884.2,357.3 1886.2,357.4 1888.2,357.5 1890.2,357.6 1892.2,357.6 1894.2,357.7" fill="none" stroke="#1f6a18" stroke-width="2.0" stroke-linejoin="round" />
<ellipse cx="1523.0" cy="139.6" rx="4.3" ry="3.6" fill="#257a1a"/>
<ellipse cx="1543.2" cy="97.0" rx="4.3" ry="3.6" fill="#257a1a"/>
<ellipse cx="1563.8" cy="79.4" rx="4.3" ry="3.6" fill="#257a1a"/>
<ellipse cx="1584.0" cy="111.9" rx="4.3" ry="3.6" fill="#257a1a"/>
<ellipse cx="1604.2" cy="100.0" rx="4.3" ry="3.6" fill="#257a1a"/>
<ellipse cx="1624.8" cy="75.6" rx="4.3" ry="3.6" fill="#257a1a"/>
<ellipse cx="1645.4" cy="105.2" rx="4.3" ry="3.6" fill="#257a1a"/>
<ellipse cx="1665.6" cy="169.2" rx="4.3" ry="3.6" fill="#257a1a"/>
<ellipse cx="1685.8" cy="131.4" rx="4.3" ry="3.6" fill="#257a1a"/>
<ellipse cx="1706.0" cy="170.7" rx="4.3" ry="3.6" fill="#257a1a"/>
<ellipse cx="1726.6" cy="132.2" rx="4.3" ry="3.6" fill="#257a1a"/>
<ellipse cx="1746.9" cy="267.7" rx="4.3" ry="3.6" fill="#257a1a"/>
<ellipse cx="1767.1" cy="299.5" rx="4.3" ry="3.6" fill="#257a1a"/>
<ellipse cx="1787.7" cy="313.4" rx="4.3" ry="3.6" fill="#257a1a"/>
<ellipse cx="1807.9" cy="337.7" rx="4.3" ry="3.6" fill="#257a1a"/>
<ellipse cx="1828.5" cy="335.8" rx="4.3" ry="3.6" fill="#257a1a"/>
<text x="1942.7" y="107.5" font-size="23.7" font-weight="bold" text-anchor="end" fill="#111" >ADK-a-Ab</text>
<text x="1942.7" y="134.8" font-size="23.7" font-weight="bold" text-anchor="end" fill="#111" >1880nM</text>
<rect x="119.8" y="513.3" width="570.5" height="373.4" fill="#fff" stroke="#000" stroke-width="3.0" />
<line x1="206.0" y1="558.9" x2="671.8" y2="558.9" stroke="#999" stroke-width="1.3" />
<line x1="671.8" y1="558.9" x2="671.8" y2="829.0" stroke="#999" stroke-width="1.3" />
<line x1="206.0" y1="558.3" x2="206.0" y2="829.6" stroke="#666" stroke-width="1.3" />
<line x1="206.0" y1="829.0" x2="671.8" y2="829.0" stroke="#666" stroke-width="1.3" />
<line x1="202.0" y1="594.4" x2="206.0" y2="594.4" stroke="#666" stroke-width="1.2" />
<text x="200.4" y="597.4" font-size="8.5" text-anchor="end" fill="#555" font-family="'Liberation Sans', 'DejaVu Sans', sans-serif" stroke="#555" stroke-width="0.25">1</text>
<line x1="202.0" y1="683.1" x2="206.0" y2="683.1" stroke="#666" stroke-width="1.2" />
<text x="200.4" y="686.1" font-size="8.5" text-anchor="end" fill="#555" font-family="'Liberation Sans', 'DejaVu Sans', sans-serif" stroke="#555" stroke-width="0.25">0.5</text>
<line x1="202.0" y1="771.8" x2="206.0" y2="771.8" stroke="#666" stroke-width="1.2" />
<text x="200.4" y="774.8" font-size="8.5" text-anchor="end" fill="#555" font-family="'Liberation Sans', 'DejaVu Sans', sans-serif" stroke="#555" stroke-width="0.25">0</text>
<line x1="254.0" y1="829.0" x2="254.0" y2="833.0" stroke="#666" stroke-width="1.2" />
<text x="254.0" y="846.0" font-size="8.5" text-anchor="middle" fill="#555" font-family="'Liberation Sans', 'DejaVu Sans', sans-serif" stroke="#555" stroke-width="0.25">1.0E-01</text>
<line x1="315.9" y1="829.0" x2="315.9" y2="833.0" stroke="#666" stroke-width="1.2" />
<text x="315.9" y="846.0" font-size="8.5" text-anchor="middle" fill="#555" font-family="'Liberation Sans', 'DejaVu Sans', sans-serif" stroke="#555" stroke-width="0.25">1.0E+00</text>
<line x1="377.8" y1="829.0" x2="377.8" y2="833.0" stroke="#666" stroke-width="1.2" />
<text x="377.8" y="846.0" font-size="8.5" text-anchor="middle" fill="#555" font-family="'Liberation Sans', 'DejaVu Sans', sans-serif" stroke="#555" stroke-width="0.25">1.0E+01</text>
<line x1="439.7" y1="829.0" x2="439.7" y2="833.0" stroke="#666" stroke-width="1.2" />
<text x="439.7" y="846.0" font-size="8.5" text-anchor="middle" fill="#555" font-family="'Liberation Sans', 'DejaVu Sans', sans-serif" stroke="#555" stroke-width="0.25">1.0E+02</text>
<line x1="501.6" y1="829.0" x2="501.6" y2="833.0" stroke="#666" stroke-width="1.2" />
<text x="501.6" y="846.0" font-size="8.5" text-anchor="middle" fill="#555" font-family="'Liberation Sans', 'DejaVu Sans', sans-serif" stroke="#555" stroke-width="0.25">1.0E+03</text>
<line x1="563.5" y1="829.0" x2="563.5" y2="833.0" stroke="#666" stroke-width="1.2" />
<text x="563.5" y="846.0" font-size="8.5" text-anchor="middle" fill="#555" font-family="'Liberation Sans', 'DejaVu Sans', sans-serif" stroke="#555" stroke-width="0.25">1.0E+04</text>
<line x1="625.4" y1="829.0" x2="625.4" y2="833.0" stroke="#666" stroke-width="1.2" />
<text x="625.4" y="846.0" font-size="8.5" text-anchor="middle" fill="#555" font-family="'Liberation Sans', 'DejaVu Sans', sans-serif" stroke="#555" stroke-width="0.25">1.0E+05</text>
<line x1="210.7" y1="829.0" x2="210.7" y2="831.5" stroke="#666" stroke-width="1" />
<line x1="221.6" y1="829.0" x2="221.6" y2="831.5" stroke="#666" stroke-width="1" />
<line x1="229.4" y1="829.0" x2="229.4" y2="831.5" stroke="#666" stroke-width="1" />
<line x1="235.4" y1="829.0" x2="235.4" y2="831.5" stroke="#666" stroke-width="1" />
<line x1="240.3" y1="829.0" x2="240.3" y2="831.5" stroke="#666" stroke-width="1" />
<line x1="244.4" y1="829.0" x2="244.4" y2="831.5" stroke="#666" stroke-width="1" />
<line x1="248.0" y1="829.0" x2="248.0" y2="831.5" stroke="#666" stroke-width="1" />
<line x1="251.2" y1="829.0" x2="251.2" y2="831.5" stroke="#666" stroke-width="1" />
<line x1="272.6" y1="829.0" x2="272.6" y2="831.5" stroke="#666" stroke-width="1" />
<line x1="283.5" y1="829.0" x2="283.5" y2="831.5" stroke="#666" stroke-width="1" />
<line x1="291.3" y1="829.0" x2="291.3" y2="831.5" stroke="#666" stroke-width="1" />
<line x1="297.3" y1="829.0" x2="297.3" y2="831.5" stroke="#666" stroke-width="1" />
<line x1="302.2" y1="829.0" x2="302.2" y2="831.5" stroke="#666" stroke-width="1" />
<line x1="306.3" y1="829.0" x2="306.3" y2="831.5" stroke="#666" stroke-width="1" />
<line x1="309.9" y1="829.0" x2="309.9" y2="831.5" stroke="#666" stroke-width="1" />
<line x1="313.1" y1="829.0" x2="313.1" y2="831.5" stroke="#666" stroke-width="1" />
<line x1="334.5" y1="829.0" x2="334.5" y2="831.5" stroke="#666" stroke-width="1" />
<line x1="345.4" y1="829.0" x2="345.4" y2="831.5" stroke="#666" stroke-width="1" />
<line x1="353.2" y1="829.0" x2="353.2" y2="831.5" stroke="#666" stroke-width="1" />
<line x1="359.2" y1="829.0" x2="359.2" y2="831.5" stroke="#666" stroke-width="1" />
<line x1="364.1" y1="829.0" x2="364.1" y2="831.5" stroke="#666" stroke-width="1" />
<line x1="368.2" y1="829.0" x2="368.2" y2="831.5" stroke="#666" stroke-width="1" />
<line x1="371.8" y1="829.0" x2="371.8" y2="831.5" stroke="#666" stroke-width="1" />
<line x1="375.0" y1="829.0" x2="375.0" y2="831.5" stroke="#666" stroke-width="1" />
<line x1="396.4" y1="829.0" x2="396.4" y2="831.5" stroke="#666" stroke-width="1" />
<line x1="407.3" y1="829.0" x2="407.3" y2="831.5" stroke="#666" stroke-width="1" />
<line x1="415.1" y1="829.0" x2="415.1" y2="831.5" stroke="#666" stroke-width="1" />
<line x1="421.1" y1="829.0" x2="421.1" y2="831.5" stroke="#666" stroke-width="1" />
<line x1="426.0" y1="829.0" x2="426.0" y2="831.5" stroke="#666" stroke-width="1" />
<line x1="430.1" y1="829.0" x2="430.1" y2="831.5" stroke="#666" stroke-width="1" />
<line x1="433.7" y1="829.0" x2="433.7" y2="831.5" stroke="#666" stroke-width="1" />
<line x1="436.9" y1="829.0" x2="436.9" y2="831.5" stroke="#666" stroke-width="1" />
<line x1="458.3" y1="829.0" x2="458.3" y2="831.5" stroke="#666" stroke-width="1" />
<line x1="469.2" y1="829.0" x2="469.2" y2="831.5" stroke="#666" stroke-width="1" />
<line x1="477.0" y1="829.0" x2="477.0" y2="831.5" stroke="#666" stroke-width="1" />
<line x1="483.0" y1="829.0" x2="483.0" y2="831.5" stroke="#666" stroke-width="1" />
<line x1="487.9" y1="829.0" x2="487.9" y2="831.5" stroke="#666" stroke-width="1" />
<line x1="492.0" y1="829.0" x2="492.0" y2="831.5" stroke="#666" stroke-width="1" />
<line x1="495.6" y1="829.0" x2="495.6" y2="831.5" stroke="#666" stroke-width="1" />
<line x1="498.8" y1="829.0" x2="498.8" y2="831.5" stroke="#666" stroke-width="1" />
<line x1="520.2" y1="829.0" x2="520.2" y2="831.5" stroke="#666" stroke-width="1" />
<line x1="531.1" y1="829.0" x2="531.1" y2="831.5" stroke="#666" stroke-width="1" />
<line x1="538.9" y1="829.0" x2="538.9" y2="831.5" stroke="#666" stroke-width="1" />
<line x1="544.9" y1="829.0" x2="544.9" y2="831.5" stroke="#666" stroke-width="1" />
<line x1="549.8" y1="829.0" x2="549.8" y2="831.5" stroke="#666" stroke-width="1" />
<line x1="553.9" y1="829.0" x2="553.9" y2="831.5" stroke="#666" stroke-width="1" />
<line x1="557.5" y1="829.0" x2="557.5" y2="831.5" stroke="#666" stroke-width="1" />
<line x1="560.7" y1="829.0" x2="560.7" y2="831.5" stroke="#666" stroke-width="1" />
<line x1="582.1" y1="829.0" x2="582.1" y2="831.5" stroke="#666" stroke-width="1" />
<line x1="593.0" y1="829.0" x2="593.0" y2="831.5" stroke="#666" stroke-width="1" />
<line x1="600.8" y1="829.0" x2="600.8" y2="831.5" stroke="#666" stroke-width="1" />
<line x1="606.8" y1="829.0" x2="606.8" y2="831.5" stroke="#666" stroke-width="1" />
<line x1="611.7" y1="829.0" x2="611.7" y2="831.5" stroke="#666" stroke-width="1" />
<line x1="615.8" y1="829.0" x2="615.8" y2="831.5" stroke="#666" stroke-width="1" />
<line x1="619.4" y1="829.0" x2="619.4" y2="831.5" stroke="#666" stroke-width="1" />
<line x1="622.6" y1="829.0" x2="622.6" y2="831.5" stroke="#666" stroke-width="1" />
<line x1="644.0" y1="829.0" x2="644.0" y2="831.5" stroke="#666" stroke-width="1" />
<line x1="654.9" y1="829.0" x2="654.9" y2="831.5" stroke="#666" stroke-width="1" />
<line x1="662.7" y1="829.0" x2="662.7" y2="831.5" stroke="#666" stroke-width="1" />
<line x1="668.7" y1="829.0" x2="668.7" y2="831.5" stroke="#666" stroke-width="1" />
<text x="438.3" y="857.3" font-size="9" text-anchor="middle" fill="#555" textLength="79.0" lengthAdjust="spacingAndGlyphs" font-family="'Liberation Sans', 'DejaVu Sans', sans-serif" >Ligand Concentration</text>
<text x="181.5" y="694.0" font-size="8.5" text-anchor="middle" fill="#555" textLength="67.0" lengthAdjust="spacingAndGlyphs" transform="rotate(-90 181.5 694.0)" font-family="'Liberation Sans', 'DejaVu Sans', sans-serif" >Fraction Bound [-]</text>
<polyline points="248.8,771.8 250.8,771.8 252.8,771.8 254.8,771.8 256.8,771.8 258.8,771.8 260.8,771.8 262.8,771.8 264.8,771.8 266.8,771.8 268.8,771.8 270.8,771.8 272.8,771.8 274.8,771.8 276.8,771.8 278.8,771.8 280.8,771.8 282.8,771.8 284.8,771.8 286.8,771.8 288.8,771.8 290.8,771.8 292.8,771.7 294.8,771.7 296.8,771.7 298.8,771.7 300.8,771.7 302.8,771.7 304.8,771.7 306.8,771.7 308.8,771.7 310.8,771.7 312.8,771.7 314.8,771.7 316.8,771.7 318.8,771.6 320.8,771.6 322.8,771.6 324.8,771.6 326.8,771.6 328.8,771.6 330.8,771.5 332.8,771.5 334.8,771.5 336.8,771.5 338.8,771.4 340.8,771.4 342.8,771.4 344.8,771.3 346.8,771.3 348.8,771.3 350.8,771.2 352.8,771.2 354.8,771.1 356.8,771.1 358.8,771.0 360.8,770.9 362.8,770.8 364.8,770.8 366.8,770.7 368.8,770.6 370.8,770.5 372.8,770.3 374.8,770.2 376.8,770.1 378.8,769.9 380.8,769.8 382.8,769.6 384.8,769.4 386.8,769.2 388.8,769.0 390.8,768.7 392.8,768.5 394.8,768.2 396.8,767.9 398.8,767.6 400.8,767.2 402.8,766.8 404.8,766.4 406.8,766.0 408.8,765.5 410.8,764.9 412.8,764.4 414.8,763.7 416.8,763.1 418.8,762.4 420.8,761.6 422.8,760.8 424.8,759.9 426.8,758.9 428.8,757.9 430.8,756.8 432.8,755.6 434.8,754.3 436.8,752.9 438.8,751.5 440.8,749.9 442.8,748.3 444.8,746.5 446.8,744.7 448.8,742.7 450.8,740.6 452.8,738.4 454.8,736.1 456.8,733.7 458.8,731.1 460.8,728.5 462.8,725.7 464.8,722.8 466.8,719.8 468.8,716.6 470.8,713.4 472.8,710.1 474.8,706.7 476.8,703.3 478.8,699.7 480.8,696.1 482.8,692.5 484.8,688.8 486.8,685.1 488.8,681.4 490.8,677.7 492.8,674.1 494.8,670.4 496.8,666.8 498.8,663.3 500.8,659.8 502.8,656.4 504.8,653.1 506.8,649.9 508.8,646.7 510.8,643.7 512.8,640.8 514.8,638.0 516.8,635.3 518.8,632.8 520.8,630.3 522.8,628.0 524.8,625.8 526.8,623.7 528.8,621.7 530.8,619.8 532.8,618.1 534.8,616.4 536.8,614.9 538.8,613.4 540.8,612.0 542.8,610.7 544.8,609.6 546.8,608.4 548.8,607.4 550.8,606.4 552.8,605.5 554.8,604.7 556.8,603.9 558.8,603.2 560.8,602.5 562.8,601.9 564.8,601.3 566.8,600.8 568.8,600.3 570.8,599.8 572.8,599.4 574.8,599.0 576.8,598.7 578.8,598.3 580.8,598.0 582.8,597.7 584.8,597.5 586.8,597.2 588.8,597.0 590.8,596.8 592.8,596.6 594.8,596.4 596.8,596.3 598.8,596.1 600.8,596.0 602.8,595.9 604.8,595.7 606.8,595.6 608.8,595.5 610.8,595.5 612.8,595.4 614.8,595.3 616.8,595.2 618.8,595.2 620.8,595.1 622.8,595.0 624.8,595.0 626.8,594.9 628.8,594.9 630.8,594.9" fill="none" stroke="#93cfb2" stroke-width="1.6" stroke-linejoin="round" />
<ellipse cx="291.1" cy="736.3" rx="3.9" ry="3.7" fill="#1e8a5c"/>
<ellipse cx="309.7" cy="749.2" rx="3.9" ry="3.7" fill="#1e8a5c"/>
<ellipse cx="328.6" cy="784.3" rx="3.9" ry="3.7" fill="#1e8a5c"/>
<ellipse cx="347.2" cy="744.4" rx="3.9" ry="3.7" fill="#1e8a5c"/>
<ellipse cx="365.7" cy="769.8" rx="3.9" ry="3.7" fill="#1e8a5c"/>
<ellipse cx="384.3" cy="778.2" rx="3.9" ry="3.7" fill="#1e8a5c"/>
<ellipse cx="403.2" cy="771.8" rx="3.9" ry="3.7" fill="#1e8a5c"/>
<ellipse cx="421.8" cy="771.8" rx="3.9" ry="3.7" fill="#1e8a5c"/>
<ellipse cx="440.3" cy="805.2" rx="3.9" ry="3.7" fill="#1e8a5c"/>
<ellipse cx="458.9" cy="746.8" rx="3.9" ry="3.7" fill="#1e8a5c"/>
<ellipse cx="477.4" cy="730.2" rx="3.9" ry="3.7" fill="#1e8a5c"/>
<ellipse cx="496.4" cy="641.9" rx="3.9" ry="3.7" fill="#1e8a5c"/>
<ellipse cx="514.9" cy="668.1" rx="3.9" ry="3.7" fill="#1e8a5c"/>
<ellipse cx="533.5" cy="581.5" rx="3.9" ry="3.7" fill="#1e8a5c"/>
<ellipse cx="552.4" cy="589.9" rx="3.9" ry="3.7" fill="#1e8a5c"/>
<ellipse cx="571.0" cy="658.1" rx="3.9" ry="3.7" fill="#1e8a5c"/>
<text x="139.9" y="556.9" font-size="23.7" font-weight="bold" fill="#111" textLength="153.2" lengthAdjust="spacingAndGlyphs" >NDPK-FABP4</text>
<text x="139.9" y="584.3" font-size="23.7" font-weight="bold" fill="#111" >700nM</text>
<rect x="751.3" y="514.4" width="569.1" height="372.5" fill="#fff" stroke="#000" stroke-width="3.0" />
<line x1="809.0" y1="539.1" x2="1312.5" y2="539.1" stroke="#888" stroke-width="1.3" />
<line x1="1312.5" y1="539.1" x2="1312.5" y2="831.1" stroke="#888" stroke-width="1.3" />
<line x1="809.0" y1="538.5" x2="809.0" y2="831.7" stroke="#666" stroke-width="1.3" />
<line x1="809.0" y1="831.1" x2="1312.5" y2="831.1" stroke="#666" stroke-width="1.3" />
<line x1="805.0" y1="813.9" x2="809.0" y2="813.9" stroke="#666" stroke-width="1.2" />
<text x="801.8" y="816.9" font-size="8.5" text-anchor="end" fill="#444" font-family="'Liberation Sans', 'DejaVu Sans', sans-serif" stroke="#444" stroke-width="0.3">873</text>
<line x1="805.0" y1="767.3" x2="809.0" y2="767.3" stroke="#666" stroke-width="1.2" />
<text x="801.8" y="770.3" font-size="8.5" text-anchor="end" fill="#444" font-family="'Liberation Sans', 'DejaVu Sans', sans-serif" stroke="#444" stroke-width="0.3">874</text>
<line x1="805.0" y1="720.7" x2="809.0" y2="720.7" stroke="#666" stroke-width="1.2" />
<text x="801.8" y="723.7" font-size="8.5" text-anchor="end" fill="#444" font-family="'Liberation Sans', 'DejaVu Sans', sans-serif" stroke="#444" stroke-width="0.3">875</text>
<line x1="805.0" y1="674.2" x2="809.0" y2="674.2" stroke="#666" stroke-width="1.2" />
<text x="801.8" y="677.2" font-size="8.5" text-anchor="end" fill="#444" font-family="'Liberation Sans', 'DejaVu Sans', sans-serif" stroke="#444" stroke-width="0.3">876</text>
<line x1="805.0" y1="627.6" x2="809.0" y2="627.6" stroke="#666" stroke-width="1.2" />
<text x="801.8" y="630.6" font-size="8.5" text-anchor="end" fill="#444" font-family="'Liberation Sans', 'DejaVu Sans', sans-serif" stroke="#444" stroke-width="0.3">877</text>
<line x1="805.0" y1="581.0" x2="809.0" y2="581.0" stroke="#666" stroke-width="1.2" />
<text x="801.8" y="584.0" font-size="8.5" text-anchor="end" fill="#444" font-family="'Liberation Sans', 'DejaVu Sans', sans-serif" stroke="#444" stroke-width="0.3">878</text>
<line x1="834.4" y1="831.1" x2="834.4" y2="835.1" stroke="#666" stroke-width="1.2" />
<text x="834.4" y="848.7" font-size="8.5" text-anchor="middle" fill="#444" font-family="'Liberation Sans', 'DejaVu Sans', sans-serif" stroke="#444" stroke-width="0.3">1.0E-10</text>
<line x1="901.3" y1="831.1" x2="901.3" y2="835.1" stroke="#666" stroke-width="1.2" />
<text x="901.3" y="848.7" font-size="8.5" text-anchor="middle" fill="#444" font-family="'Liberation Sans', 'DejaVu Sans', sans-serif" stroke="#444" stroke-width="0.3">1.0E-09</text>
<line x1="968.1" y1="831.1" x2="968.1" y2="835.1" stroke="#666" stroke-width="1.2" />
<text x="968.1" y="848.7" font-size="8.5" text-anchor="middle" fill="#444" font-family="'Liberation Sans', 'DejaVu Sans', sans-serif" stroke="#444" stroke-width="0.3">1.0E-08</text>
<line x1="1035.0" y1="831.1" x2="1035.0" y2="835.1" stroke="#666" stroke-width="1.2" />
<text x="1035.0" y="848.7" font-size="8.5" text-anchor="middle" fill="#444" font-family="'Liberation Sans', 'DejaVu Sans', sans-serif" stroke="#444" stroke-width="0.3">1.0E-07</text>
<line x1="1101.8" y1="831.1" x2="1101.8" y2="835.1" stroke="#666" stroke-width="1.2" />
<text x="1101.8" y="848.7" font-size="8.5" text-anchor="middle" fill="#444" font-family="'Liberation Sans', 'DejaVu Sans', sans-serif" stroke="#444" stroke-width="0.3">1.0E-06</text>
<line x1="1168.7" y1="831.1" x2="1168.7" y2="835.1" stroke="#666" stroke-width="1.2" />
<text x="1168.7" y="848.7" font-size="8.5" text-anchor="middle" fill="#444" font-family="'Liberation Sans', 'DejaVu Sans', sans-serif" stroke="#444" stroke-width="0.3">1.0E-05</text>
<line x1="1235.6" y1="831.1" x2="1235.6" y2="835.1" stroke="#666" stroke-width="1.2" />
<text x="1235.6" y="848.7" font-size="8.5" text-anchor="middle" fill="#444" font-family="'Liberation Sans', 'DejaVu Sans', sans-serif" stroke="#444" stroke-width="0.3">1.0E-04</text>
<line x1="1302.4" y1="831.1" x2="1302.4" y2="835.1" stroke="#666" stroke-width="1.2" />
<text x="1302.4" y="848.7" font-size="8.5" text-anchor="middle" fill="#444" font-family="'Liberation Sans', 'DejaVu Sans', sans-serif" stroke="#444" stroke-width="0.3">1.0E-03</text>
<line x1="814.3" y1="831.1" x2="814.3" y2="833.6" stroke="#666" stroke-width="1" />
<line x1="819.6" y1="831.1" x2="819.6" y2="833.6" stroke="#666" stroke-width="1" />
<line x1="824.0" y1="831.1" x2="824.0" y2="833.6" stroke="#666" stroke-width="1" />
<line x1="827.9" y1="831.1" x2="827.9" y2="833.6" stroke="#666" stroke-width="1" />
<line x1="831.3" y1="831.1" x2="831.3" y2="833.6" stroke="#666" stroke-width="1" />
<line x1="854.5" y1="831.1" x2="854.5" y2="833.6" stroke="#666" stroke-width="1" />
<line x1="866.3" y1="831.1" x2="866.3" y2="833.6" stroke="#666" stroke-width="1" />
<line x1="874.7" y1="831.1" x2="874.7" y2="833.6" stroke="#666" stroke-width="1" />
<line x1="881.1" y1="831.1" x2="881.1" y2="833.6" stroke="#666" stroke-width="1" />
<line x1="886.4" y1="831.1" x2="886.4" y2="833.6" stroke="#666" stroke-width="1" />
<line x1="890.9" y1="831.1" x2="890.9" y2="833.6" stroke="#666" stroke-width="1" />
<line x1="894.8" y1="831.1" x2="894.8" y2="833.6" stroke="#666" stroke-width="1" />
<line x1="898.2" y1="831.1" x2="898.2" y2="833.6" stroke="#666" stroke-width="1" />
<line x1="921.4" y1="831.1" x2="921.4" y2="833.6" stroke="#666" stroke-width="1" />
<line x1="933.2" y1="831.1" x2="933.2" y2="833.6" stroke="#666" stroke-width="1" />
<line x1="941.5" y1="831.1" x2="941.5" y2="833.6" stroke="#666" stroke-width="1" />
<line x1="948.0" y1="831.1" x2="948.0" y2="833.6" stroke="#666" stroke-width="1" />
<line x1="953.3" y1="831.1" x2="953.3" y2="833.6" stroke="#666" stroke-width="1" />
<line x1="957.8" y1="831.1" x2="957.8" y2="833.6" stroke="#666" stroke-width="1" />
<line x1="961.6" y1="831.1" x2="961.6" y2="833.6" stroke="#666" stroke-width="1" />
<line x1="965.1" y1="831.1" x2="965.1" y2="833.6" stroke="#666" stroke-width="1" />
<line x1="988.2" y1="831.1" x2="988.2" y2="833.6" stroke="#666" stroke-width="1" />
<line x1="1000.0" y1="831.1" x2="1000.0" y2="833.6" stroke="#666" stroke-width="1" />
<line x1="1008.4" y1="831.1" x2="1008.4" y2="833.6" stroke="#666" stroke-width="1" />
<line x1="1014.9" y1="831.1" x2="1014.9" y2="833.6" stroke="#666" stroke-width="1" />
<line x1="1020.1" y1="831.1" x2="1020.1" y2="833.6" stroke="#666" stroke-width="1" />
<line x1="1024.6" y1="831.1" x2="1024.6" y2="833.6" stroke="#666" stroke-width="1" />
<line x1="1028.5" y1="831.1" x2="1028.5" y2="833.6" stroke="#666" stroke-width="1" />
<line x1="1031.9" y1="831.1" x2="1031.9" y2="833.6" stroke="#666" stroke-width="1" />
<line x1="1055.1" y1="831.1" x2="1055.1" y2="833.6" stroke="#666" stroke-width="1" />
<line x1="1066.9" y1="831.1" x2="1066.9" y2="833.6" stroke="#666" stroke-width="1" />
<line x1="1075.2" y1="831.1" x2="1075.2" y2="833.6" stroke="#666" stroke-width="1" />
<line x1="1081.7" y1="831.1" x2="1081.7" y2="833.6" stroke="#666" stroke-width="1" />
<line x1="1087.0" y1="831.1" x2="1087.0" y2="833.6" stroke="#666" stroke-width="1" />
<line x1="1091.5" y1="831.1" x2="1091.5" y2="833.6" stroke="#666" stroke-width="1" />
<line x1="1095.4" y1="831.1" x2="1095.4" y2="833.6" stroke="#666" stroke-width="1" />
<line x1="1098.8" y1="831.1" x2="1098.8" y2="833.6" stroke="#666" stroke-width="1" />
<line x1="1122.0" y1="831.1" x2="1122.0" y2="833.6" stroke="#666" stroke-width="1" />
<line x1="1133.7" y1="831.1" x2="1133.7" y2="833.6" stroke="#666" stroke-width="1" />
<line x1="1142.1" y1="831.1" x2="1142.1" y2="833.6" stroke="#666" stroke-width="1" />
<line x1="1148.6" y1="831.1" x2="1148.6" y2="833.6" stroke="#666" stroke-width="1" />
<line x1="1153.9" y1="831.1" x2="1153.9" y2="833.6" stroke="#666" stroke-width="1" />
<line x1="1158.3" y1="831.1" x2="1158.3" y2="833.6" stroke="#666" stroke-width="1" />
<line x1="1162.2" y1="831.1" x2="1162.2" y2="833.6" stroke="#666" stroke-width="1" />
<line x1="1165.6" y1="831.1" x2="1165.6" y2="833.6" stroke="#666" stroke-width="1" />
<line x1="1188.8" y1="831.1" x2="1188.8" y2="833.6" stroke="#666" stroke-width="1" />
<line x1="1200.6" y1="831.1" x2="1200.6" y2="833.6" stroke="#666" stroke-width="1" />
<line x1="1209.0" y1="831.1" x2="1209.0" y2="833.6" stroke="#666" stroke-width="1" />
<line x1="1215.4" y1="831.1" x2="1215.4" y2="833.6" stroke="#666" stroke-width="1" />
<line x1="1220.7" y1="831.1" x2="1220.7" y2="833.6" stroke="#666" stroke-width="1" />
<line x1="1225.2" y1="831.1" x2="1225.2" y2="833.6" stroke="#666" stroke-width="1" />
<line x1="1229.1" y1="831.1" x2="1229.1" y2="833.6" stroke="#666" stroke-width="1" />
<line x1="1232.5" y1="831.1" x2="1232.5" y2="833.6" stroke="#666" stroke-width="1" />
<line x1="1255.7" y1="831.1" x2="1255.7" y2="833.6" stroke="#666" stroke-width="1" />
<line x1="1267.5" y1="831.1" x2="1267.5" y2="833.6" stroke="#666" stroke-width="1" />
<line x1="1275.8" y1="831.1" x2="1275.8" y2="833.6" stroke="#666" stroke-width="1" />
<line x1="1282.3" y1="831.1" x2="1282.3" y2="833.6" stroke="#666" stroke-width="1" />
<line x1="1287.6" y1="831.1" x2="1287.6" y2="833.6" stroke="#666" stroke-width="1" />
<line x1="1292.1" y1="831.1" x2="1292.1" y2="833.6" stroke="#666" stroke-width="1" />
<line x1="1295.9" y1="831.1" x2="1295.9" y2="833.6" stroke="#666" stroke-width="1" />
<line x1="1299.4" y1="831.1" x2="1299.4" y2="833.6" stroke="#666" stroke-width="1" />
<text x="1060.2" y="860.7" font-size="9" text-anchor="middle" fill="#555" textLength="86.0" lengthAdjust="spacingAndGlyphs" font-family="'Liberation Sans', 'DejaVu Sans', sans-serif" >Ligand Concentration</text>
<text x="783.5" y="685.0" font-size="8.5" text-anchor="middle" fill="#555" textLength="46.0" lengthAdjust="spacingAndGlyphs" transform="rotate(-90 783.5 685.0)" font-family="'Liberation Sans', 'DejaVu Sans', sans-serif" >Fnorm [‰]</text>
<text x="1060.3" y="531.2" font-size="13" font-weight="bold" text-anchor="middle" fill="#222" textLength="205.5" lengthAdjust="spacingAndGlyphs" font-family="'Liberation Sans', 'DejaVu Sans', sans-serif" >Analysis-Set #1 - Dose Response</text>
<polyline points="854.6,586.0 856.6,586.0 858.6,586.0 860.6,586.1 862.6,586.1 864.6,586.1 866.6,586.1 868.6,586.1 870.6,586.1 872.6,586.1 874.6,586.2 876.6,586.2 878.6,586.2 880.6,586.2 882.6,586.2 884.6,586.3 886.6,586.3 888.6,586.3 890.6,586.4 892.6,586.4 894.6,586.4 896.6,586.5 898.6,586.5 900.6,586.6 902.6,586.6 904.6,586.7 906.6,586.7 908.6,586.8 910.6,586.9 912.6,586.9 914.6,587.0 916.6,587.1 918.6,587.2 920.6,587.3 922.6,587.4 924.6,587.5 926.6,587.6 928.6,587.8 930.6,587.9 932.6,588.0 934.6,588.2 936.6,588.4 938.6,588.6 940.6,588.8 942.6,589.0 944.6,589.2 946.6,589.5 948.6,589.8 950.6,590.0 952.6,590.4 954.6,590.7 956.6,591.1 958.6,591.4 960.6,591.8 962.6,592.3 964.6,592.8 966.6,593.3 968.6,593.8 970.6,594.4 972.6,595.0 974.6,595.7 976.6,596.4 978.6,597.2 980.6,598.0 982.6,598.9 984.6,599.8 986.6,600.8 988.6,601.8 990.6,603.0 992.6,604.2 994.6,605.4 996.6,606.8 998.6,608.2 1000.6,609.7 1002.6,611.4 1004.6,613.1 1006.6,614.9 1008.6,616.8 1010.6,618.7 1012.6,620.8 1014.6,623.1 1016.6,625.4 1018.6,627.8 1020.6,630.3 1022.6,633.0 1024.6,635.7 1026.6,638.6 1028.6,641.5 1030.6,644.6 1032.6,647.8 1034.6,651.0 1036.6,654.4 1038.6,657.8 1040.6,661.3 1042.6,664.9 1044.6,668.6 1046.6,672.3 1048.6,676.0 1050.6,679.8 1052.6,683.7 1054.6,687.5 1056.6,691.3 1058.6,695.2 1060.6,699.0 1062.6,702.8 1064.6,706.5 1066.6,710.3 1068.6,713.9 1070.6,717.5 1072.6,721.0 1074.6,724.5 1076.6,727.8 1078.6,731.1 1080.6,734.3 1082.6,737.4 1084.6,740.3 1086.6,743.2 1088.6,746.0 1090.6,748.6 1092.6,751.2 1094.6,753.6 1096.6,755.9 1098.6,758.1 1100.6,760.2 1102.6,762.3 1104.6,764.2 1106.6,766.0 1108.6,767.7 1110.6,769.3 1112.6,770.8 1114.6,772.3 1116.6,773.6 1118.6,774.9 1120.6,776.1 1122.6,777.2 1124.6,778.3 1126.6,779.3 1128.6,780.2 1130.6,781.1 1132.6,781.9 1134.6,782.7 1136.6,783.4 1138.6,784.1 1140.6,784.7 1142.6,785.3 1144.6,785.9 1146.6,786.4 1148.6,786.9 1150.6,787.3 1152.6,787.7 1154.6,788.1 1156.6,788.5 1158.6,788.8 1160.6,789.1 1162.6,789.4 1164.6,789.7 1166.6,789.9 1168.6,790.2 1170.6,790.4 1172.6,790.6 1174.6,790.8 1176.6,791.0 1178.6,791.1 1180.6,791.3 1182.6,791.4 1184.6,791.6 1186.6,791.7 1188.6,791.8 1190.6,791.9 1192.6,792.0 1194.6,792.1 1196.6,792.2 1198.6,792.3 1200.6,792.3 1202.6,792.4 1204.6,792.5 1206.6,792.5 1208.6,792.6 1210.6,792.6 1212.6,792.7 1214.6,792.7 1216.6,792.8 1218.6,792.8 1220.6,792.8 1222.6,792.9 1224.6,792.9 1226.6,792.9 1228.6,793.0 1230.6,793.0 1232.6,793.0 1234.6,793.0 1236.6,793.0 1238.6,793.1 1240.6,793.1 1242.6,793.1 1244.6,793.1 1246.6,793.1 1248.6,793.1 1250.6,793.1 1252.6,793.2 1254.6,793.2 1256.6,793.2 1258.6,793.2 1260.6,793.2 1262.6,793.2 1264.6,793.2 1266.6,793.2 1268.6,793.2" fill="none" stroke="#c07c7c" stroke-width="1.6" stroke-linejoin="round" />
<ellipse cx="901.4" cy="573.9" rx="4.2" ry="4.0" fill="#8b1414"/>
<ellipse cx="921.6" cy="587.8" rx="4.2" ry="4.0" fill="#8b1414"/>
<ellipse cx="961.7" cy="625.2" rx="4.2" ry="4.0" fill="#8b1414"/>
<ellipse cx="1001.8" cy="624.1" rx="4.2" ry="4.0" fill="#8b1414"/>
<ellipse cx="1022.0" cy="563.8" rx="4.2" ry="4.0" fill="#8b1414"/>
<ellipse cx="1041.8" cy="711.0" rx="4.2" ry="4.0" fill="#8b1414"/>
<ellipse cx="1062.0" cy="697.5" rx="4.2" ry="4.0" fill="#8b1414"/>
<ellipse cx="1082.3" cy="731.5" rx="4.2" ry="4.0" fill="#8b1414"/>
<ellipse cx="1102.5" cy="750.6" rx="4.2" ry="4.0" fill="#8b1414"/>
<ellipse cx="1122.7" cy="806.8" rx="4.2" ry="4.0" fill="#8b1414"/>
<ellipse cx="1142.9" cy="798.6" rx="4.2" ry="4.0" fill="#8b1414"/>
<ellipse cx="1163.1" cy="786.2" rx="4.2" ry="4.0" fill="#8b1414"/>
<ellipse cx="1183.0" cy="764.9" rx="4.2" ry="4.0" fill="#8b1414"/>
<text x="1306.5" y="569.8" font-size="23.7" font-weight="bold" text-anchor="end" fill="#111" >NDPK-a-Ab</text>
<text x="1306.5" y="597.9" font-size="23.7" font-weight="bold" text-anchor="end" fill="#111" >143nM</text>
<defs><filter id="bl2" x="-30%" y="-60%" width="160%" height="220%"><feGaussianBlur stdDeviation="1.6"/></filter><filter id="bl3" x="-30%" y="-60%" width="160%" height="220%"><feGaussianBlur stdDeviation="2.2"/></filter><linearGradient id="gbg" x1="0" x2="1" y1="0" y2="0"><stop offset="0" stop-color="#f4f4f4"/><stop offset="0.1" stop-color="#eeeeee"/><stop offset="0.5" stop-color="#ebebeb"/><stop offset="1" stop-color="#e9e9e9"/></linearGradient></defs>
<text x="0" y="0" font-size="100" fill="#111" stroke="#111" stroke-width="1.75" stroke-linejoin="round" transform="matrix(0 -0.18324 0.21657 0 1564.60 601.70)">NDPK</text>
<text x="0" y="0" font-size="100" fill="#111" stroke="#111" stroke-width="1.74" stroke-linejoin="round" transform="matrix(0 -0.18551 0.21657 0 1613.80 601.04)">ADK</text>
<text x="0" y="0" font-size="100" fill="#111" stroke="#111" stroke-width="1.77" stroke-linejoin="round" transform="matrix(0 -0.17961 0.21657 0 1664.20 604.47)">FABP4</text>
<text x="0" y="0" font-size="100" fill="#111" stroke="#111" stroke-width="1.76" stroke-linejoin="round" transform="matrix(0 -0.18175 0.21512 0 1717.40 605.09)">NDPK FABP4</text>
<text x="0" y="0" font-size="100" fill="#111" stroke="#111" stroke-width="1.73" stroke-linejoin="round" transform="matrix(0 -0.18310 0.22239 0 1775.90 605.10)">NDPK ADK</text>
<text x="0" y="0" font-size="100" fill="#111" stroke="#111" stroke-width="1.75" stroke-linejoin="round" transform="matrix(0 -0.18267 0.21803 0 1828.10 605.10)">NDPK ADK FABP4</text>
<text x="0" y="0" font-size="100" fill="#111" stroke="#111" stroke-width="1.70" stroke-linejoin="round" transform="matrix(0 -0.19729 0.21379 0 1872.39 601.92)">Beads alone</text>
<rect x="1474.0" y="615.5" width="412.8" height="242.4" fill="#fdfdfd" stroke="#222" stroke-width="1.6" />
<rect x="1474.0" y="884.5" width="412.8" height="118.8" fill="url(#gbg)" stroke="#222" stroke-width="1.6" />
<rect x="1753.5" y="645.8" width="35.5" height="9.5" rx="4.8" fill="#000" filter="url(#bl2)"/>
<rect x="1808.0" y="649.2" width="33.5" height="6.0" rx="3.0" fill="#6a6a6a" filter="url(#bl2)"/>
<rect x="1687.5" y="815.6" width="41.0" height="13.0" rx="6.5" fill="#000" filter="url(#bl2)"/>
<rect x="1794.0" y="817.8" width="42.5" height="14.0" rx="7.0" fill="#000" filter="url(#bl2)"/>
<rect x="1533.0" y="935.2" width="40.0" height="21.5" rx="8.0" fill="#000" filter="url(#bl2)"/>
<rect x="1691.5" y="930.4" width="44.5" height="28.0" rx="8.0" fill="#000" filter="url(#bl2)"/>
<rect x="1744.5" y="933.6" width="42.0" height="23.5" rx="8.0" fill="#000" filter="url(#bl2)"/>
<rect x="1797.0" y="931.3" width="43.0" height="27.0" rx="8.0" fill="#000" filter="url(#bl2)"/>
<text x="0" y="0" font-size="100" fill="#111" stroke="#111" stroke-width="1.26" stroke-linejoin="round" transform="matrix(0.23890 0 0 0.23694 1355.04 646.57)">55kDa</text>
<line x1="1430.1" y1="635.0" x2="1462.0" y2="635.0" stroke="#000" stroke-width="4" />
<text x="0" y="0" font-size="100" fill="#111" stroke="#111" stroke-width="1.27" stroke-linejoin="round" transform="matrix(0.23957 0 0 0.23421 1354.55 678.57)">40kDa</text>
<line x1="1430.1" y1="668.6" x2="1462.0" y2="668.6" stroke="#000" stroke-width="4" />
<text x="0" y="0" font-size="100" fill="#111" stroke="#111" stroke-width="1.26" stroke-linejoin="round" transform="matrix(0.23699 0 0 0.23830 1356.39 835.87)">15kDa</text>
<line x1="1431.2" y1="826.8" x2="1462.7" y2="826.8" stroke="#000" stroke-width="4" />
<text x="0" y="0" font-size="100" fill="#111" stroke="#111" stroke-width="1.24" stroke-linejoin="round" transform="matrix(0.24065 0 0 0.24374 1357.24 915.56)">55kDa</text>
<line x1="1436.5" y1="907.1" x2="1468.3" y2="907.1" stroke="#000" stroke-width="4" />
<text x="0" y="0" font-size="100" fill="#111" stroke="#111" stroke-width="1.26" stroke-linejoin="round" transform="matrix(0.23747 0 0 0.23966 1356.96 969.57)">40kDa</text>
<line x1="1436.5" y1="960.0" x2="1468.3" y2="960.0" stroke="#000" stroke-width="4" />
<line x1="1911.1" y1="650.5" x2="1937.9" y2="650.5" stroke="#000" stroke-width="4.1" />
<polygon points="1898.8,650.5 1912.1,643.9 1912.1,657.1" fill="#000"/>
<text x="0" y="0" font-size="100" fill="#111" stroke="#111" stroke-width="1.56" stroke-linejoin="round" transform="matrix(0.18956 0 0 0.19472 1946.55 655.61)">His-ADK</text>
<line x1="1907.0" y1="819.8" x2="1934.7" y2="819.8" stroke="#000" stroke-width="4.1" />
<polygon points="1895.1,819.8 1908.0,813.2 1908.0,826.4" fill="#000"/>
<text x="0" y="0" font-size="100" fill="#111" stroke="#111" stroke-width="1.56" stroke-linejoin="round" transform="matrix(0.18411 0 0 0.20153 1943.29 827.00)">His-FABP4</text>
<line x1="1907.0" y1="942.7" x2="1934.7" y2="942.7" stroke="#000" stroke-width="4.1" />
<polygon points="1895.1,942.7 1908.0,936.1 1908.0,949.3" fill="#000"/>
<text x="0" y="0" font-size="100" fill="#111" stroke="#111" stroke-width="1.61" stroke-linejoin="round" transform="matrix(0.17589 0 0 0.19774 1943.52 949.91)">GST-NDPK</text>
<text x="0" y="0" font-size="100" fill="#111" stroke="#111" stroke-width="1.00" stroke-linejoin="round" transform="matrix(0.19863 0 0 0.20062 1480.01 876.44)">WB: His Tag</text>
<text x="0" y="0" font-size="100" fill="#111" stroke="#111" stroke-width="1.00" stroke-linejoin="round" transform="matrix(0.19775 0 0 0.20425 1477.21 1021.96)">WB: GST Tag</text>
<line x1="172.8" y1="1108.5" x2="172.8" y2="1403.5" stroke="#000" stroke-width="3.2" />
<line x1="155.9" y1="1402.2" x2="599.0" y2="1402.2" stroke="#000" stroke-width="3.5" />
<line x1="156.3" y1="1156.9" x2="172.8" y2="1156.9" stroke="#000" stroke-width="3.4" />
<line x1="156.3" y1="1279.8" x2="172.8" y2="1279.8" stroke="#000" stroke-width="3.4" />
<line x1="156.3" y1="1401.6" x2="172.8" y2="1401.6" stroke="#000" stroke-width="3.4" />
<text x="0" y="0" font-size="100" font-weight="bold" transform="matrix(0.29701 0 0 0.29802 108.33 1167.41)">1.0</text>
<text x="0" y="0" font-size="100" font-weight="bold" transform="matrix(0.29408 0 0 0.28813 108.34 1289.82)">0.5</text>
<text x="0" y="0" font-size="100" font-weight="bold" transform="matrix(0.29704 0 0 0.29661 108.33 1411.61)">0.0</text>
<rect x="185.0" y="1156.9" width="13.9" height="245.3" fill="#fff" stroke="#000" stroke-width="3.4" />
<rect x="183.3" y="1153.2" width="17.3" height="7.5" fill="#000" stroke="none" stroke-width="1" rx="2.5"/>
<rect x="211.7" y="1398.0" width="19.9" height="7.5" fill="#000" stroke="none" stroke-width="1" rx="1"/>
<rect x="242.4" y="1398.7" width="18.7" height="6.0" fill="#000" stroke="none" stroke-width="1" rx="1"/>
<rect x="293.9" y="1156.9" width="14.8" height="245.3" fill="#fff" stroke="#000" stroke-width="3.4" />
<rect x="292.2" y="1153.2" width="18.2" height="7.5" fill="#000" stroke="none" stroke-width="1" rx="2.5"/>
<rect x="323.5" y="1196.1" width="15.4" height="206.1" fill="#fcc200" stroke="#000" stroke-width="3.4" />
<rect x="351.5" y="1398.7" width="19.0" height="6.0" fill="#000" stroke="none" stroke-width="1" rx="1"/>
<rect x="403.2" y="1156.9" width="14.3" height="245.3" fill="#fff" stroke="#000" stroke-width="3.4" />
<rect x="401.5" y="1153.2" width="17.7" height="7.5" fill="#000" stroke="none" stroke-width="1" rx="2.5"/>
<rect x="430.8" y="1398.0" width="18.9" height="7.5" fill="#000" stroke="none" stroke-width="1" rx="1"/>
<rect x="462.1" y="1218.2" width="15.4" height="184.0" fill="#bebebe" stroke="#000" stroke-width="3.4" />
<rect x="512.8" y="1156.9" width="14.3" height="245.3" fill="#fff" stroke="#000" stroke-width="3.4" />
<rect x="511.1" y="1153.2" width="17.7" height="7.5" fill="#000" stroke="none" stroke-width="1" rx="2.5"/>
<rect x="541.6" y="1283.7" width="15.0" height="118.5" fill="#fcc200" stroke="#000" stroke-width="3.4" />
<rect x="571.5" y="1255.1" width="15.0" height="147.1" fill="#bebebe" stroke="#000" stroke-width="3.4" />
<line x1="331.2" y1="1177.1" x2="331.2" y2="1212.7" stroke="#000" stroke-width="2.0" />
<line x1="325.4" y1="1177.1" x2="337.0" y2="1177.1" stroke="#000" stroke-width="2.2" />
<line x1="325.4" y1="1212.7" x2="337.0" y2="1212.7" stroke="#000" stroke-width="2.2" />
<line x1="469.8" y1="1184.7" x2="469.8" y2="1251.8" stroke="#000" stroke-width="2.0" />
<line x1="464.0" y1="1184.7" x2="475.6" y2="1184.7" stroke="#000" stroke-width="2.2" />
<line x1="464.0" y1="1251.8" x2="475.6" y2="1251.8" stroke="#000" stroke-width="2.2" />
<line x1="549.1" y1="1269.9" x2="549.1" y2="1297.0" stroke="#000" stroke-width="2.0" />
<line x1="543.3" y1="1269.9" x2="554.9" y2="1269.9" stroke="#000" stroke-width="2.2" />
<line x1="543.3" y1="1297.0" x2="554.9" y2="1297.0" stroke="#000" stroke-width="2.2" />
<line x1="579.0" y1="1241.8" x2="579.0" y2="1268.5" stroke="#000" stroke-width="2.0" />
<line x1="573.2" y1="1241.8" x2="584.8" y2="1241.8" stroke="#000" stroke-width="2.2" />
<line x1="573.2" y1="1268.5" x2="584.8" y2="1268.5" stroke="#000" stroke-width="2.2" />
<rect x="327.5" y="1143.6" width="7.4" height="7.4" fill="#000" stroke="none" stroke-width="1" />
<rect x="327.5" y="1186.9" width="7.4" height="7.4" fill="#000" stroke="none" stroke-width="1" />
<rect x="327.5" y="1210.5" width="7.4" height="7.4" fill="#000" stroke="none" stroke-width="1" />
<rect x="327.5" y="1227.8" width="7.4" height="7.4" fill="#000" stroke="none" stroke-width="1" />
<polygon points="469.8,1140.4 465.6,1148.1 474.1,1148.1" fill="#000"/>
<polygon points="469.8,1196.1 465.6,1203.8 474.1,1203.8" fill="#000"/>
<polygon points="469.8,1220.6 465.6,1228.3 474.1,1228.3" fill="#000"/>
<polygon points="469.8,1302.3 465.6,1310.0 474.1,1310.0" fill="#000"/>
<rect x="545.4" y="1253.3" width="7.4" height="7.4" fill="#000" stroke="none" stroke-width="1" />
<rect x="545.4" y="1262.8" width="7.4" height="7.4" fill="#000" stroke="none" stroke-width="1" />
<rect x="545.4" y="1290.1" width="7.4" height="7.4" fill="#000" stroke="none" stroke-width="1" />
<rect x="545.4" y="1311.3" width="7.4" height="7.4" fill="#000" stroke="none" stroke-width="1" />
<polygon points="579.0,1222.4 574.8,1230.1 583.2,1230.1" fill="#000"/>
<polygon points="579.0,1234.4 574.8,1242.1 583.2,1242.1" fill="#000"/>
<polygon points="579.0,1260.2 574.8,1267.9 583.2,1267.9" fill="#000"/>
<polygon points="579.0,1272.2 574.8,1279.9 583.2,1279.9" fill="#000"/>
<line x1="221.4" y1="1402.2" x2="221.4" y2="1418.6" stroke="#000" stroke-width="3.5" />
<line x1="330.7" y1="1402.2" x2="330.7" y2="1418.6" stroke="#000" stroke-width="3.5" />
<line x1="439.3" y1="1402.2" x2="439.3" y2="1418.6" stroke="#000" stroke-width="3.5" />
<line x1="548.9" y1="1402.2" x2="548.9" y2="1418.6" stroke="#000" stroke-width="3.5" />
<text x="0" y="0" font-size="100" font-weight="bold" transform="matrix(0.29848 0 0 0.31396 179.00 1452.20)">NDPK</text>
<text x="0" y="0" font-size="100" font-weight="bold" transform="matrix(0.29884 0 0 0.31396 283.80 1452.20)">NDPK</text>
<text x="0" y="0" font-size="100" font-weight="bold" transform="matrix(0.30061 0 0 0.30524 294.05 1485.60)">ADK</text>
<text x="0" y="0" font-size="100" font-weight="bold" transform="matrix(0.29957 0 0 0.31105 397.40 1451.80)">NDPK</text>
<text x="0" y="0" font-size="100" font-weight="bold" transform="matrix(0.29257 0 0 0.30814 391.84 1485.70)">FABP4</text>
<text x="0" y="0" font-size="100" font-weight="bold" transform="matrix(0.29812 0 0 0.31105 506.61 1451.80)">NDPK</text>
<text x="0" y="0" font-size="100" font-weight="bold" transform="matrix(0.29498 0 0 0.30814 516.87 1485.70)">ADK</text>
<text x="0" y="0" font-size="100" font-weight="bold" transform="matrix(0.29132 0 0 0.30814 501.05 1519.30)">FABP4</text>
<text x="0" y="0" font-size="100" stroke="#000" stroke-width="1.04" stroke-linejoin="round" transform="matrix(0.51156 0 0 0.44720 422.08 1119.07)">***</text>
<polyline points="346.4,1113.7 551.0,1113.7 551.0,1147.3" fill="none" stroke="#000" stroke-width="2" stroke-linejoin="round" />
<text x="0" y="0" font-size="100" font-weight="bold" transform="matrix(0 -0.31575 0.31319 0 52.59 1310.01)">Protein</text>
<text x="0" y="0" font-size="100" font-weight="bold" transform="matrix(0 -0.31617 0.32506 0 92.25 1348.27)">(Fold NDPK)</text>
<rect x="643.4" y="1193.9" width="34.3" height="33.8" fill="#fff" stroke="#000" stroke-width="3.9" />
<rect x="643.4" y="1247.2" width="34.3" height="33.8" fill="#fcc200" stroke="#000" stroke-width="3.9" />
<rect x="643.4" y="1298.0" width="34.3" height="33.8" fill="#a9a9a9" stroke="#000" stroke-width="3.9" />
<text x="0" y="0" font-size="100" transform="matrix(0.32066 0 0 0.34012 700.97 1221.50)">NDPK</text>
<text x="0" y="0" font-size="100" transform="matrix(0.31621 0 0 0.33867 702.04 1276.40)">ADK</text>
<text x="0" y="0" font-size="100" transform="matrix(0.31211 0 0 0.33867 701.04 1331.40)">FABP4</text>
<line x1="943.0" y1="1104.4" x2="943.0" y2="1404.0" stroke="#000" stroke-width="3.0" />
<line x1="930.5" y1="1402.5" x2="1387.8" y2="1402.5" stroke="#000" stroke-width="3.0" />
<line x1="930.5" y1="1105.9" x2="943.0" y2="1105.9" stroke="#000" stroke-width="3.0" />
<text x="925.3" y="1113.6" font-size="22.4" font-weight="bold" text-anchor="end" transform="translate(925.3 1113.6) scale(1 1.06) translate(-925.3 -1113.6)" >8000</text>
<line x1="930.5" y1="1180.1" x2="943.0" y2="1180.1" stroke="#000" stroke-width="3.0" />
<text x="925.3" y="1187.8" font-size="22.4" font-weight="bold" text-anchor="end" transform="translate(925.3 1187.8) scale(1 1.06) translate(-925.3 -1187.8)" >6000</text>
<line x1="930.5" y1="1254.2" x2="943.0" y2="1254.2" stroke="#000" stroke-width="3.0" />
<text x="925.3" y="1261.9" font-size="22.4" font-weight="bold" text-anchor="end" transform="translate(925.3 1261.9) scale(1 1.06) translate(-925.3 -1261.9)" >4000</text>
<line x1="930.5" y1="1328.3" x2="943.0" y2="1328.3" stroke="#000" stroke-width="3.0" />
<text x="925.3" y="1336.0" font-size="22.4" font-weight="bold" text-anchor="end" transform="translate(925.3 1336.0) scale(1 1.06) translate(-925.3 -1336.0)" >2000</text>
<line x1="930.5" y1="1402.5" x2="943.0" y2="1402.5" stroke="#000" stroke-width="3.0" />
<text x="925.3" y="1410.2" font-size="22.4" font-weight="bold" text-anchor="end" transform="translate(925.3 1410.2) scale(1 1.06) translate(-925.3 -1410.2)" >0</text>
<line x1="998.3" y1="1402.5" x2="998.3" y2="1416.0" stroke="#000" stroke-width="3.0" />
<line x1="1081.8" y1="1402.5" x2="1081.8" y2="1416.0" stroke="#000" stroke-width="3.0" />
<line x1="1165.3" y1="1402.5" x2="1165.3" y2="1416.0" stroke="#000" stroke-width="3.0" />
<line x1="1248.8" y1="1402.5" x2="1248.8" y2="1416.0" stroke="#000" stroke-width="3.0" />
<line x1="1332.3" y1="1402.5" x2="1332.3" y2="1416.0" stroke="#000" stroke-width="3.0" />
<text x="998.3" y="1439.9" font-size="22.4" font-weight="bold" text-anchor="middle" transform="translate(998.3 1439.9) scale(1 1.06) translate(-998.3 -1439.9)" >0</text>
<text x="1081.8" y="1439.9" font-size="22.4" font-weight="bold" text-anchor="middle" transform="translate(1081.8 1439.9) scale(1 1.06) translate(-1081.8 -1439.9)" >0.19</text>
<text x="1165.3" y="1439.9" font-size="22.4" font-weight="bold" text-anchor="middle" transform="translate(1165.3 1439.9) scale(1 1.06) translate(-1165.3 -1439.9)" >0.56</text>
<text x="1248.8" y="1439.9" font-size="22.4" font-weight="bold" text-anchor="middle" transform="translate(1248.8 1439.9) scale(1 1.06) translate(-1248.8 -1439.9)" >1.67</text>
<text x="1332.3" y="1439.9" font-size="22.4" font-weight="bold" text-anchor="middle" transform="translate(1332.3 1439.9) scale(1 1.06) translate(-1332.3 -1439.9)" >5</text>
<text x="1166.5" y="1476.1" font-size="24" font-weight="bold" text-anchor="middle" textLength="173.0" lengthAdjust="spacingAndGlyphs" transform="translate(1166.5 1476.1) scale(1 1.06) translate(-1166.5 -1476.1)" >Substrate (mM)</text>
<text x="859.8" y="1254.2" font-size="24" font-weight="bold" text-anchor="middle" textLength="115.5" lengthAdjust="spacingAndGlyphs" transform="rotate(-90 859.8 1254.2) translate(859.8 1254.2) scale(1 1.06) translate(-859.8 -1254.2)" >ATP (RLU)</text>
<text x="1166.4" y="1066.0" font-size="28.5" font-weight="bold" text-anchor="middle" transform="translate(1166.4 1066.0) scale(1 1.06) translate(-1166.4 -1066.0)" >ADK</text>
<polyline points="998.3,1376.7 1081.8,1265.0 1165.3,1224.7 1248.8,1240.3 1332.3,1286.6" fill="none" stroke="#000" stroke-width="2.7" stroke-linejoin="round" />
<polyline points="998.3,1378.0 1081.8,1259.1 1165.3,1224.7 1248.8,1225.8 1332.3,1273.6" fill="none" stroke="#7030a0" stroke-width="2.7" stroke-linejoin="round" />
<polyline points="998.3,1372.3 1081.8,1274.8 1165.3,1196.5 1248.8,1174.1 1332.3,1212.1" fill="none" stroke="#a9a9a9" stroke-width="2.7" stroke-linejoin="round" />
<polyline points="998.3,1372.3 1081.8,1256.4 1165.3,1187.9 1248.8,1176.9 1332.3,1221.1" fill="none" stroke="#c595d1" stroke-width="2.7" stroke-linejoin="round" />
<circle cx="998.3" cy="1376.7" r="6.2" fill="#000"/>
<circle cx="1081.8" cy="1265.0" r="6.2" fill="#000"/>
<line x1="1165.3" y1="1214.7" x2="1165.3" y2="1234.7" stroke="#000" stroke-width="1.8" />
<line x1="1158.8" y1="1214.7" x2="1171.8" y2="1214.7" stroke="#000" stroke-width="1.8" />
<line x1="1158.8" y1="1234.7" x2="1171.8" y2="1234.7" stroke="#000" stroke-width="1.8" />
<circle cx="1165.3" cy="1224.7" r="6.2" fill="#000"/>
<line x1="1248.8" y1="1235.3" x2="1248.8" y2="1245.3" stroke="#000" stroke-width="1.8" />
<line x1="1242.3" y1="1235.3" x2="1255.3" y2="1235.3" stroke="#000" stroke-width="1.8" />
<line x1="1242.3" y1="1245.3" x2="1255.3" y2="1245.3" stroke="#000" stroke-width="1.8" />
<circle cx="1248.8" cy="1240.3" r="6.2" fill="#000"/>
<circle cx="1332.3" cy="1286.6" r="6.2" fill="#000"/>
<rect x="992.1" y="1371.8" width="12.4" height="12.4" fill="#7030a0" stroke="none" stroke-width="1" />
<rect x="1075.6" y="1252.9" width="12.4" height="12.4" fill="#7030a0" stroke="none" stroke-width="1" />
<line x1="1165.3" y1="1214.7" x2="1165.3" y2="1234.7" stroke="#7030a0" stroke-width="1.8" />
<line x1="1158.8" y1="1214.7" x2="1171.8" y2="1214.7" stroke="#7030a0" stroke-width="1.8" />
<line x1="1158.8" y1="1234.7" x2="1171.8" y2="1234.7" stroke="#7030a0" stroke-width="1.8" />
<rect x="1159.1" y="1218.5" width="12.4" height="12.4" fill="#7030a0" stroke="none" stroke-width="1" />
<line x1="1248.8" y1="1213.8" x2="1248.8" y2="1237.8" stroke="#7030a0" stroke-width="1.8" />
<line x1="1242.3" y1="1213.8" x2="1255.3" y2="1213.8" stroke="#7030a0" stroke-width="1.8" />
<line x1="1242.3" y1="1237.8" x2="1255.3" y2="1237.8" stroke="#7030a0" stroke-width="1.8" />
<rect x="1242.6" y="1219.6" width="12.4" height="12.4" fill="#7030a0" stroke="none" stroke-width="1" />
<rect x="1326.1" y="1267.4" width="12.4" height="12.4" fill="#7030a0" stroke="none" stroke-width="1" />
<polygon points="998.3,1365.3 991.8,1377.8 1004.8,1377.8" fill="#a9a9a9"/>
<polygon points="1081.8,1267.8 1075.3,1280.3 1088.3,1280.3" fill="#a9a9a9"/>
<polygon points="1165.3,1189.5 1158.8,1202.0 1171.8,1202.0" fill="#a9a9a9"/>
<line x1="1248.8" y1="1160.1" x2="1248.8" y2="1188.1" stroke="#a9a9a9" stroke-width="1.8" />
<line x1="1242.3" y1="1160.1" x2="1255.3" y2="1160.1" stroke="#a9a9a9" stroke-width="1.8" />
<line x1="1242.3" y1="1188.1" x2="1255.3" y2="1188.1" stroke="#a9a9a9" stroke-width="1.8" />
<polygon points="1248.8,1167.1 1242.3,1179.6 1255.3,1179.6" fill="#a9a9a9"/>
<line x1="1332.3" y1="1206.1" x2="1332.3" y2="1218.1" stroke="#a9a9a9" stroke-width="1.8" />
<line x1="1325.8" y1="1206.1" x2="1338.8" y2="1206.1" stroke="#a9a9a9" stroke-width="1.8" />
<line x1="1325.8" y1="1218.1" x2="1338.8" y2="1218.1" stroke="#a9a9a9" stroke-width="1.8" />
<polygon points="1332.3,1205.1 1325.8,1217.6 1338.8,1217.6" fill="#a9a9a9"/>
<polygon points="998.3,1379.3 991.8,1366.8 1004.8,1366.8" fill="#c595d1"/>
<polygon points="1081.8,1263.4 1075.3,1250.9 1088.3,1250.9" fill="#c595d1"/>
<line x1="1165.3" y1="1180.9" x2="1165.3" y2="1194.9" stroke="#c595d1" stroke-width="1.8" />
<line x1="1158.8" y1="1180.9" x2="1171.8" y2="1180.9" stroke="#c595d1" stroke-width="1.8" />
<line x1="1158.8" y1="1194.9" x2="1171.8" y2="1194.9" stroke="#c595d1" stroke-width="1.8" />
<polygon points="1165.3,1194.9 1158.8,1182.4 1171.8,1182.4" fill="#c595d1"/>
<line x1="1248.8" y1="1162.9" x2="1248.8" y2="1190.9" stroke="#c595d1" stroke-width="1.8" />
<line x1="1242.3" y1="1162.9" x2="1255.3" y2="1162.9" stroke="#c595d1" stroke-width="1.8" />
<line x1="1242.3" y1="1190.9" x2="1255.3" y2="1190.9" stroke="#c595d1" stroke-width="1.8" />
<polygon points="1248.8,1183.9 1242.3,1171.4 1255.3,1171.4" fill="#c595d1"/>
<line x1="1332.3" y1="1211.1" x2="1332.3" y2="1231.1" stroke="#c595d1" stroke-width="1.8" />
<line x1="1325.8" y1="1211.1" x2="1338.8" y2="1211.1" stroke="#c595d1" stroke-width="1.8" />
<line x1="1325.8" y1="1231.1" x2="1338.8" y2="1231.1" stroke="#c595d1" stroke-width="1.8" />
<polygon points="1332.3,1228.1 1325.8,1215.6 1338.8,1215.6" fill="#c595d1"/>
<line x1="1123.4" y1="1288.5" x2="1155.6" y2="1288.5" stroke="#000" stroke-width="2.8" />
<circle cx="1139.5" cy="1288.5" r="6.2" fill="#000"/>
<text x="1173.2" y="1295.1" font-size="18.5" transform="translate(1173.2 1295.1) scale(1 1.06) translate(-1173.2 -1295.1)" >ADK</text>
<line x1="1123.4" y1="1317.9" x2="1155.6" y2="1317.9" stroke="#7030a0" stroke-width="2.8" />
<rect x="1133.3" y="1311.7" width="12.4" height="12.4" fill="#7030a0" stroke="none" stroke-width="1" />
<text x="1173.2" y="1324.5" font-size="18.5" textLength="90.5" lengthAdjust="spacingAndGlyphs" transform="translate(1173.2 1324.5) scale(1 1.06) translate(-1173.2 -1324.5)" >ADK NDPK</text>
<line x1="1123.4" y1="1348.1" x2="1155.6" y2="1348.1" stroke="#a9a9a9" stroke-width="2.8" />
<polygon points="1139.5,1341.1 1133.0,1353.6 1146.0,1353.6" fill="#a9a9a9"/>
<text x="1173.2" y="1354.7" font-size="18.5" textLength="96.0" lengthAdjust="spacingAndGlyphs" transform="translate(1173.2 1354.7) scale(1 1.06) translate(-1173.2 -1354.7)" >ADK FABP4</text>
<line x1="1123.4" y1="1377.8" x2="1155.6" y2="1377.8" stroke="#c595d1" stroke-width="2.8" />
<polygon points="1139.5,1384.8 1133.0,1372.3 1146.0,1372.3" fill="#c595d1"/>
<text x="1173.2" y="1384.4" font-size="18.5" textLength="152.0" lengthAdjust="spacingAndGlyphs" transform="translate(1173.2 1384.4) scale(1 1.06) translate(-1173.2 -1384.4)" >ADK NDPK FABP4</text>
<text x="0" y="0" font-size="100" stroke="#000" stroke-width="1.31" stroke-linejoin="round" transform="matrix(0.38890 0 0 0.37314 1238.97 1156.17)">*</text>
<text x="0" y="0" font-size="100" stroke="#000" stroke-width="1.31" stroke-linejoin="round" transform="matrix(0.38890 0 0 0.37314 1326.17 1204.87)">*</text>
<line x1="1607.9" y1="1104.4" x2="1607.9" y2="1404.0" stroke="#000" stroke-width="3.0" />
<line x1="1595.4" y1="1402.5" x2="2053.6" y2="1402.5" stroke="#000" stroke-width="3.0" />
<line x1="1595.4" y1="1105.9" x2="1607.9" y2="1105.9" stroke="#000" stroke-width="3.0" />
<text x="1590.2" y="1113.6" font-size="22.4" font-weight="bold" text-anchor="end" transform="translate(1590.2 1113.6) scale(1 1.06) translate(-1590.2 -1113.6)" >300000</text>
<line x1="1595.4" y1="1204.8" x2="1607.9" y2="1204.8" stroke="#000" stroke-width="3.0" />
<text x="1590.2" y="1212.5" font-size="22.4" font-weight="bold" text-anchor="end" transform="translate(1590.2 1212.5) scale(1 1.06) translate(-1590.2 -1212.5)" >200000</text>
<line x1="1595.4" y1="1303.6" x2="1607.9" y2="1303.6" stroke="#000" stroke-width="3.0" />
<text x="1590.2" y="1311.3" font-size="22.4" font-weight="bold" text-anchor="end" transform="translate(1590.2 1311.3) scale(1 1.06) translate(-1590.2 -1311.3)" >100000</text>
<line x1="1595.4" y1="1402.5" x2="1607.9" y2="1402.5" stroke="#000" stroke-width="3.0" />
<text x="1590.2" y="1410.2" font-size="22.4" font-weight="bold" text-anchor="end" transform="translate(1590.2 1410.2) scale(1 1.06) translate(-1590.2 -1410.2)" >0</text>
<line x1="1663.1" y1="1402.5" x2="1663.1" y2="1416.0" stroke="#000" stroke-width="3.0" />
<line x1="1746.2" y1="1402.5" x2="1746.2" y2="1416.0" stroke="#000" stroke-width="3.0" />
<line x1="1829.6" y1="1402.5" x2="1829.6" y2="1416.0" stroke="#000" stroke-width="3.0" />
<line x1="1913.8" y1="1402.5" x2="1913.8" y2="1416.0" stroke="#000" stroke-width="3.0" />
<line x1="1996.8" y1="1402.5" x2="1996.8" y2="1416.0" stroke="#000" stroke-width="3.0" />
<text x="1663.1" y="1439.9" font-size="22.4" font-weight="bold" text-anchor="middle" transform="translate(1663.1 1439.9) scale(1 1.06) translate(-1663.1 -1439.9)" >0</text>
<text x="1746.2" y="1439.9" font-size="22.4" font-weight="bold" text-anchor="middle" transform="translate(1746.2 1439.9) scale(1 1.06) translate(-1746.2 -1439.9)" >0.19</text>
<text x="1829.6" y="1439.9" font-size="22.4" font-weight="bold" text-anchor="middle" transform="translate(1829.6 1439.9) scale(1 1.06) translate(-1829.6 -1439.9)" >0.56</text>
<text x="1913.8" y="1439.9" font-size="22.4" font-weight="bold" text-anchor="middle" transform="translate(1913.8 1439.9) scale(1 1.06) translate(-1913.8 -1439.9)" >1.67</text>
<text x="1996.8" y="1439.9" font-size="22.4" font-weight="bold" text-anchor="middle" transform="translate(1996.8 1439.9) scale(1 1.06) translate(-1996.8 -1439.9)" >5</text>
<text x="1831.0" y="1476.1" font-size="24" font-weight="bold" text-anchor="middle" textLength="173.0" lengthAdjust="spacingAndGlyphs" transform="translate(1831.0 1476.1) scale(1 1.06) translate(-1831.0 -1476.1)" >Substrate (mM)</text>
<text x="1501.3" y="1255.3" font-size="24" font-weight="bold" text-anchor="middle" textLength="121.5" lengthAdjust="spacingAndGlyphs" transform="rotate(-90 1501.3 1255.3) translate(1501.3 1255.3) scale(1 1.06) translate(-1501.3 -1255.3)" >ADP (RLU)</text>
<text x="1831.4" y="1064.5" font-size="28.5" font-weight="bold" text-anchor="middle" transform="translate(1831.4 1064.5) scale(1 1.06) translate(-1831.4 -1064.5)" >ADK</text>
<polyline points="1663.1,1402.1 1746.2,1391.1 1829.6,1392.3 1913.8,1373.9 1996.8,1190.6" fill="none" stroke="#000" stroke-width="2.7" stroke-linejoin="round" />
<polyline points="1663.1,1402.1 1746.2,1388.0 1829.6,1389.5 1913.8,1370.8 1996.8,1171.8" fill="none" stroke="#7030a0" stroke-width="2.7" stroke-linejoin="round" />
<polyline points="1663.1,1402.1 1746.2,1386.0 1829.6,1387.0 1913.8,1366.9 1996.8,1161.2" fill="none" stroke="#a9a9a9" stroke-width="2.7" stroke-linejoin="round" />
<polyline points="1663.1,1402.1 1746.2,1382.5 1829.6,1382.5 1913.8,1350.4 1996.8,1145.6" fill="none" stroke="#c595d1" stroke-width="2.7" stroke-linejoin="round" />
<circle cx="1663.1" cy="1402.1" r="6.2" fill="#000"/>
<circle cx="1746.2" cy="1391.1" r="6.2" fill="#000"/>
<circle cx="1829.6" cy="1392.3" r="6.2" fill="#000"/>
<circle cx="1913.8" cy="1373.9" r="6.2" fill="#000"/>
<line x1="1996.8" y1="1180.6" x2="1996.8" y2="1200.6" stroke="#000" stroke-width="1.8" />
<line x1="1990.3" y1="1180.6" x2="2003.3" y2="1180.6" stroke="#000" stroke-width="1.8" />
<line x1="1990.3" y1="1200.6" x2="2003.3" y2="1200.6" stroke="#000" stroke-width="1.8" />
<circle cx="1996.8" cy="1190.6" r="6.2" fill="#000"/>
<rect x="1656.9" y="1395.9" width="12.4" height="12.4" fill="#7030a0" stroke="none" stroke-width="1" />
<rect x="1740.0" y="1381.8" width="12.4" height="12.4" fill="#7030a0" stroke="none" stroke-width="1" />
<rect x="1823.4" y="1383.3" width="12.4" height="12.4" fill="#7030a0" stroke="none" stroke-width="1" />
<rect x="1907.6" y="1364.6" width="12.4" height="12.4" fill="#7030a0" stroke="none" stroke-width="1" />
<line x1="1996.8" y1="1163.8" x2="1996.8" y2="1179.8" stroke="#7030a0" stroke-width="1.8" />
<line x1="1990.3" y1="1163.8" x2="2003.3" y2="1163.8" stroke="#7030a0" stroke-width="1.8" />
<line x1="1990.3" y1="1179.8" x2="2003.3" y2="1179.8" stroke="#7030a0" stroke-width="1.8" />
<rect x="1990.6" y="1165.6" width="12.4" height="12.4" fill="#7030a0" stroke="none" stroke-width="1" />
<polygon points="1663.1,1395.1 1656.6,1407.6 1669.6,1407.6" fill="#a9a9a9"/>
<polygon points="1746.2,1379.0 1739.7,1391.5 1752.7,1391.5" fill="#a9a9a9"/>
<polygon points="1829.6,1380.0 1823.1,1392.5 1836.1,1392.5" fill="#a9a9a9"/>
<polygon points="1913.8,1359.9 1907.3,1372.4 1920.3,1372.4" fill="#a9a9a9"/>
<line x1="1996.8" y1="1155.2" x2="1996.8" y2="1167.2" stroke="#a9a9a9" stroke-width="1.8" />
<line x1="1990.3" y1="1155.2" x2="2003.3" y2="1155.2" stroke="#a9a9a9" stroke-width="1.8" />
<line x1="1990.3" y1="1167.2" x2="2003.3" y2="1167.2" stroke="#a9a9a9" stroke-width="1.8" />
<polygon points="1996.8,1154.2 1990.3,1166.7 2003.3,1166.7" fill="#a9a9a9"/>
<polygon points="1663.1,1409.1 1656.6,1396.6 1669.6,1396.6" fill="#c595d1"/>
<line x1="1746.2" y1="1379.5" x2="1746.2" y2="1385.5" stroke="#c595d1" stroke-width="1.8" />
<line x1="1739.7" y1="1379.5" x2="1752.7" y2="1379.5" stroke="#c595d1" stroke-width="1.8" />
<line x1="1739.7" y1="1385.5" x2="1752.7" y2="1385.5" stroke="#c595d1" stroke-width="1.8" />
<polygon points="1746.2,1389.5 1739.7,1377.0 1752.7,1377.0" fill="#c595d1"/>
<line x1="1829.6" y1="1379.5" x2="1829.6" y2="1385.5" stroke="#c595d1" stroke-width="1.8" />
<line x1="1823.1" y1="1379.5" x2="1836.1" y2="1379.5" stroke="#c595d1" stroke-width="1.8" />
<line x1="1823.1" y1="1385.5" x2="1836.1" y2="1385.5" stroke="#c595d1" stroke-width="1.8" />
<polygon points="1829.6,1389.5 1823.1,1377.0 1836.1,1377.0" fill="#c595d1"/>
<line x1="1913.8" y1="1340.4" x2="1913.8" y2="1360.4" stroke="#c595d1" stroke-width="1.8" />
<line x1="1907.3" y1="1340.4" x2="1920.3" y2="1340.4" stroke="#c595d1" stroke-width="1.8" />
<line x1="1907.3" y1="1360.4" x2="1920.3" y2="1360.4" stroke="#c595d1" stroke-width="1.8" />
<polygon points="1913.8,1357.4 1907.3,1344.9 1920.3,1344.9" fill="#c595d1"/>
<line x1="1996.8" y1="1139.6" x2="1996.8" y2="1151.6" stroke="#c595d1" stroke-width="1.8" />
<line x1="1990.3" y1="1139.6" x2="2003.3" y2="1139.6" stroke="#c595d1" stroke-width="1.8" />
<line x1="1990.3" y1="1151.6" x2="2003.3" y2="1151.6" stroke="#c595d1" stroke-width="1.8" />
<polygon points="1996.8,1152.6 1990.3,1140.1 2003.3,1140.1" fill="#c595d1"/>
<line x1="1640.4" y1="1142.0" x2="1673.7" y2="1142.0" stroke="#000" stroke-width="2.8" />
<circle cx="1657.1" cy="1142.0" r="6.2" fill="#000"/>
<text x="1690.5" y="1148.6" font-size="18.5" transform="translate(1690.5 1148.6) scale(1 1.06) translate(-1690.5 -1148.6)" >ADK</text>
<line x1="1640.4" y1="1169.8" x2="1673.7" y2="1169.8" stroke="#7030a0" stroke-width="2.8" />
<rect x="1650.9" y="1163.6" width="12.4" height="12.4" fill="#7030a0" stroke="none" stroke-width="1" />
<text x="1690.5" y="1176.4" font-size="18.5" textLength="90.5" lengthAdjust="spacingAndGlyphs" transform="translate(1690.5 1176.4) scale(1 1.06) translate(-1690.5 -1176.4)" >ADK NDPK</text>
<line x1="1640.4" y1="1200.4" x2="1673.7" y2="1200.4" stroke="#a9a9a9" stroke-width="2.8" />
<polygon points="1657.1,1193.4 1650.6,1205.9 1663.6,1205.9" fill="#a9a9a9"/>
<text x="1690.5" y="1207.0" font-size="18.5" textLength="96.0" lengthAdjust="spacingAndGlyphs" transform="translate(1690.5 1207.0) scale(1 1.06) translate(-1690.5 -1207.0)" >ADK FABP4</text>
<line x1="1640.4" y1="1229.8" x2="1673.7" y2="1229.8" stroke="#c595d1" stroke-width="2.8" />
<polygon points="1657.1,1236.8 1650.6,1224.3 1663.6,1224.3" fill="#c595d1"/>
<text x="1690.5" y="1236.4" font-size="18.5" textLength="152.0" lengthAdjust="spacingAndGlyphs" transform="translate(1690.5 1236.4) scale(1 1.06) translate(-1690.5 -1236.4)" >ADK NDPK FABP4</text>
<line x1="127.8" y1="1603.0" x2="127.8" y2="1903.1" stroke="#000" stroke-width="3.0" />
<line x1="115.3" y1="1901.6" x2="572.7" y2="1901.6" stroke="#000" stroke-width="3.0" />
<line x1="115.3" y1="1604.5" x2="127.8" y2="1604.5" stroke="#000" stroke-width="3.0" />
<text x="110.1" y="1612.2" font-size="22.4" font-weight="bold" text-anchor="end" transform="translate(110.1 1612.2) scale(1 1.06) translate(-110.1 -1612.2)" >400000</text>
<line x1="115.3" y1="1678.8" x2="127.8" y2="1678.8" stroke="#000" stroke-width="3.0" />
<text x="110.1" y="1686.5" font-size="22.4" font-weight="bold" text-anchor="end" transform="translate(110.1 1686.5) scale(1 1.06) translate(-110.1 -1686.5)" >300000</text>
<line x1="115.3" y1="1753.0" x2="127.8" y2="1753.0" stroke="#000" stroke-width="3.0" />
<text x="110.1" y="1760.8" font-size="22.4" font-weight="bold" text-anchor="end" transform="translate(110.1 1760.8) scale(1 1.06) translate(-110.1 -1760.8)" >200000</text>
<line x1="115.3" y1="1827.3" x2="127.8" y2="1827.3" stroke="#000" stroke-width="3.0" />
<text x="110.1" y="1835.0" font-size="22.4" font-weight="bold" text-anchor="end" transform="translate(110.1 1835.0) scale(1 1.06) translate(-110.1 -1835.0)" >100000</text>
<line x1="115.3" y1="1901.6" x2="127.8" y2="1901.6" stroke="#000" stroke-width="3.0" />
<text x="110.1" y="1909.3" font-size="22.4" font-weight="bold" text-anchor="end" transform="translate(110.1 1909.3) scale(1 1.06) translate(-110.1 -1909.3)" >0</text>
<line x1="183.3" y1="1901.6" x2="183.3" y2="1915.1" stroke="#000" stroke-width="3.0" />
<line x1="266.4" y1="1901.6" x2="266.4" y2="1915.1" stroke="#000" stroke-width="3.0" />
<line x1="349.8" y1="1901.6" x2="349.8" y2="1915.1" stroke="#000" stroke-width="3.0" />
<line x1="433.6" y1="1901.6" x2="433.6" y2="1915.1" stroke="#000" stroke-width="3.0" />
<line x1="517.0" y1="1901.6" x2="517.0" y2="1915.1" stroke="#000" stroke-width="3.0" />
<text x="183.3" y="1939.0" font-size="22.4" font-weight="bold" text-anchor="middle" transform="translate(183.3 1939.0) scale(1 1.06) translate(-183.3 -1939.0)" >0</text>
<text x="266.4" y="1939.0" font-size="22.4" font-weight="bold" text-anchor="middle" transform="translate(266.4 1939.0) scale(1 1.06) translate(-266.4 -1939.0)" >0.19</text>
<text x="349.8" y="1939.0" font-size="22.4" font-weight="bold" text-anchor="middle" transform="translate(349.8 1939.0) scale(1 1.06) translate(-349.8 -1939.0)" >0.56</text>
<text x="433.6" y="1939.0" font-size="22.4" font-weight="bold" text-anchor="middle" transform="translate(433.6 1939.0) scale(1 1.06) translate(-433.6 -1939.0)" >1.67</text>
<text x="517.0" y="1939.0" font-size="22.4" font-weight="bold" text-anchor="middle" transform="translate(517.0 1939.0) scale(1 1.06) translate(-517.0 -1939.0)" >5</text>
<text x="350.6" y="1975.2" font-size="24" font-weight="bold" text-anchor="middle" textLength="173.0" lengthAdjust="spacingAndGlyphs" transform="translate(350.6 1975.2) scale(1 1.06) translate(-350.6 -1975.2)" >Substrate (mM)</text>
<text x="22.3" y="1753.0" font-size="24" font-weight="bold" text-anchor="middle" textLength="121.5" lengthAdjust="spacingAndGlyphs" transform="rotate(-90 22.3 1753.0) translate(22.3 1753.0) scale(1 1.06) translate(-22.3 -1753.0)" >ADP (RLU)</text>
<text x="351.0" y="1565.0" font-size="28.5" font-weight="bold" text-anchor="middle" transform="translate(351.0 1565.0) scale(1 1.06) translate(-351.0 -1565.0)" >NDPK</text>
<polyline points="183.3,1900.7 266.4,1891.3 349.8,1869.8 433.6,1798.7 517.0,1666.1" fill="none" stroke="#000" stroke-width="2.7" stroke-linejoin="round" />
<polyline points="183.3,1900.7 266.4,1894.8 349.8,1878.4 433.6,1828.3 517.0,1752.3" fill="none" stroke="#7030a0" stroke-width="2.7" stroke-linejoin="round" />
<polyline points="183.3,1900.7 266.4,1891.5 349.8,1871.0 433.6,1809.1 517.0,1705.3" fill="none" stroke="#a9a9a9" stroke-width="2.7" stroke-linejoin="round" />
<polyline points="183.3,1900.7 266.4,1895.0 349.8,1878.0 433.6,1828.0 517.0,1755.0" fill="none" stroke="#c595d1" stroke-width="2.7" stroke-linejoin="round" />
<circle cx="183.3" cy="1900.7" r="6.2" fill="#000"/>
<circle cx="266.4" cy="1891.3" r="6.2" fill="#000"/>
<circle cx="349.8" cy="1869.8" r="6.2" fill="#000"/>
<line x1="433.6" y1="1795.7" x2="433.6" y2="1801.7" stroke="#000" stroke-width="1.8" />
<line x1="427.1" y1="1795.7" x2="440.1" y2="1795.7" stroke="#000" stroke-width="1.8" />
<line x1="427.1" y1="1801.7" x2="440.1" y2="1801.7" stroke="#000" stroke-width="1.8" />
<circle cx="433.6" cy="1798.7" r="6.2" fill="#000"/>
<line x1="517.0" y1="1654.6" x2="517.0" y2="1677.6" stroke="#000" stroke-width="1.8" />
<line x1="510.5" y1="1654.6" x2="523.5" y2="1654.6" stroke="#000" stroke-width="1.8" />
<line x1="510.5" y1="1677.6" x2="523.5" y2="1677.6" stroke="#000" stroke-width="1.8" />
<circle cx="517.0" cy="1666.1" r="6.2" fill="#000"/>
<rect x="177.1" y="1894.5" width="12.4" height="12.4" fill="#7030a0" stroke="none" stroke-width="1" />
<rect x="260.2" y="1888.6" width="12.4" height="12.4" fill="#7030a0" stroke="none" stroke-width="1" />
<rect x="343.6" y="1872.2" width="12.4" height="12.4" fill="#7030a0" stroke="none" stroke-width="1" />
<rect x="427.4" y="1822.1" width="12.4" height="12.4" fill="#7030a0" stroke="none" stroke-width="1" />
<line x1="517.0" y1="1746.3" x2="517.0" y2="1758.3" stroke="#7030a0" stroke-width="1.8" />
<line x1="510.5" y1="1746.3" x2="523.5" y2="1746.3" stroke="#7030a0" stroke-width="1.8" />
<line x1="510.5" y1="1758.3" x2="523.5" y2="1758.3" stroke="#7030a0" stroke-width="1.8" />
<rect x="510.8" y="1746.1" width="12.4" height="12.4" fill="#7030a0" stroke="none" stroke-width="1" />
<polygon points="183.3,1893.7 176.8,1906.2 189.8,1906.2" fill="#a9a9a9"/>
<polygon points="266.4,1884.5 259.9,1897.0 272.9,1897.0" fill="#a9a9a9"/>
<polygon points="349.8,1864.0 343.3,1876.5 356.3,1876.5" fill="#a9a9a9"/>
<polygon points="433.6,1802.1 427.1,1814.6 440.1,1814.6" fill="#a9a9a9"/>
<line x1="517.0" y1="1700.3" x2="517.0" y2="1710.3" stroke="#a9a9a9" stroke-width="1.8" />
<line x1="510.5" y1="1700.3" x2="523.5" y2="1700.3" stroke="#a9a9a9" stroke-width="1.8" />
<line x1="510.5" y1="1710.3" x2="523.5" y2="1710.3" stroke="#a9a9a9" stroke-width="1.8" />
<polygon points="517.0,1698.3 510.5,1710.8 523.5,1710.8" fill="#a9a9a9"/>
<polygon points="183.3,1907.7 176.8,1895.2 189.8,1895.2" fill="#c595d1"/>
<polygon points="266.4,1902.0 259.9,1889.5 272.9,1889.5" fill="#c595d1"/>
<polygon points="349.8,1885.0 343.3,1872.5 356.3,1872.5" fill="#c595d1"/>
<polygon points="433.6,1835.0 427.1,1822.5 440.1,1822.5" fill="#c595d1"/>
<line x1="517.0" y1="1750.0" x2="517.0" y2="1760.0" stroke="#c595d1" stroke-width="1.8" />
<line x1="510.5" y1="1750.0" x2="523.5" y2="1750.0" stroke="#c595d1" stroke-width="1.8" />
<line x1="510.5" y1="1760.0" x2="523.5" y2="1760.0" stroke="#c595d1" stroke-width="1.8" />
<polygon points="517.0,1762.0 510.5,1749.5 523.5,1749.5" fill="#c595d1"/>
<line x1="144.9" y1="1609.3" x2="179.0" y2="1609.3" stroke="#000" stroke-width="2.8" />
<circle cx="161.9" cy="1609.3" r="6.2" fill="#000"/>
<text x="195.8" y="1615.9" font-size="18.5" transform="translate(195.8 1615.9) scale(1 1.06) translate(-195.8 -1615.9)" >NDPK</text>
<line x1="144.9" y1="1636.3" x2="179.0" y2="1636.3" stroke="#7030a0" stroke-width="2.8" />
<rect x="155.8" y="1630.1" width="12.4" height="12.4" fill="#7030a0" stroke="none" stroke-width="1" />
<text x="195.8" y="1642.9" font-size="18.5" textLength="98.0" lengthAdjust="spacingAndGlyphs" transform="translate(195.8 1642.9) scale(1 1.06) translate(-195.8 -1642.9)" >NDPK ADK</text>
<line x1="144.9" y1="1664.1" x2="179.0" y2="1664.1" stroke="#a9a9a9" stroke-width="2.8" />
<polygon points="161.9,1657.1 155.4,1669.6 168.4,1669.6" fill="#a9a9a9"/>
<text x="195.8" y="1670.7" font-size="18.5" textLength="110.0" lengthAdjust="spacingAndGlyphs" transform="translate(195.8 1670.7) scale(1 1.06) translate(-195.8 -1670.7)" >NDPK FABP4</text>
<line x1="144.9" y1="1693.1" x2="179.0" y2="1693.1" stroke="#c595d1" stroke-width="2.8" />
<polygon points="161.9,1700.1 155.4,1687.6 168.4,1687.6" fill="#c595d1"/>
<text x="195.8" y="1699.7" font-size="18.5" textLength="150.0" lengthAdjust="spacingAndGlyphs" transform="translate(195.8 1699.7) scale(1 1.06) translate(-195.8 -1699.7)" >NDPK ADK FABP4</text>
<text x="0" y="0" font-size="100" stroke="#000" stroke-width="1.29" stroke-linejoin="round" transform="matrix(0.40317 0 0 0.37029 250.25 1881.38)">**</text>
<text x="0" y="0" font-size="100" stroke="#000" stroke-width="1.29" stroke-linejoin="round" transform="matrix(0.40502 0 0 0.36744 324.65 1849.48)">***</text>
<text x="0" y="0" font-size="100" stroke="#000" stroke-width="1.38" stroke-linejoin="round" transform="matrix(0.41121 0 0 0.31332 407.34 1783.76)">**</text>
<text x="0" y="0" font-size="100" stroke="#000" stroke-width="1.31" stroke-linejoin="round" transform="matrix(0.37770 0 0 0.38453 508.09 1650.46)">*</text>
<line x1="779.3" y1="1603.0" x2="779.3" y2="1903.1" stroke="#000" stroke-width="3.0" />
<line x1="766.8" y1="1901.6" x2="1224.6" y2="1901.6" stroke="#000" stroke-width="3.0" />
<line x1="766.8" y1="1604.5" x2="779.3" y2="1604.5" stroke="#000" stroke-width="3.0" />
<text x="0" y="0" font-size="100" font-weight="bold" transform="matrix(0.22623 0 0 0.22316 702.97 1613.48)">6×10</text>
<text x="0" y="0" font-size="100" font-weight="bold" transform="matrix(0.16963 0 0 0.17373 753.78 1605.33)">6</text>
<line x1="766.8" y1="1703.5" x2="779.3" y2="1703.5" stroke="#000" stroke-width="3.0" />
<text x="0" y="0" font-size="100" font-weight="bold" transform="matrix(0.22401 0 0 0.22316 703.46 1712.52)">4×10</text>
<text x="0" y="0" font-size="100" font-weight="bold" transform="matrix(0.16963 0 0 0.17373 753.78 1704.36)">6</text>
<line x1="766.8" y1="1802.6" x2="779.3" y2="1802.6" stroke="#000" stroke-width="3.0" />
<text x="0" y="0" font-size="100" font-weight="bold" transform="matrix(0.22602 0 0 0.22316 703.02 1811.55)">2×10</text>
<text x="0" y="0" font-size="100" font-weight="bold" transform="matrix(0.16963 0 0 0.17373 753.78 1803.40)">6</text>
<line x1="766.8" y1="1901.6" x2="779.3" y2="1901.6" stroke="#000" stroke-width="3.0" />
<text x="761.6" y="1909.3" font-size="22.4" font-weight="bold" text-anchor="end" transform="translate(761.6 1909.3) scale(1 1.06) translate(-761.6 -1909.3)" >0</text>
<line x1="836.1" y1="1901.6" x2="836.1" y2="1915.1" stroke="#000" stroke-width="3.0" />
<line x1="919.5" y1="1901.6" x2="919.5" y2="1915.1" stroke="#000" stroke-width="3.0" />
<line x1="1002.5" y1="1901.6" x2="1002.5" y2="1915.1" stroke="#000" stroke-width="3.0" />
<line x1="1086.0" y1="1901.6" x2="1086.0" y2="1915.1" stroke="#000" stroke-width="3.0" />
<line x1="1169.4" y1="1901.6" x2="1169.4" y2="1915.1" stroke="#000" stroke-width="3.0" />
<text x="836.1" y="1939.0" font-size="22.4" font-weight="bold" text-anchor="middle" transform="translate(836.1 1939.0) scale(1 1.06) translate(-836.1 -1939.0)" >0</text>
<text x="919.5" y="1939.0" font-size="22.4" font-weight="bold" text-anchor="middle" transform="translate(919.5 1939.0) scale(1 1.06) translate(-919.5 -1939.0)" >0.19</text>
<text x="1002.5" y="1939.0" font-size="22.4" font-weight="bold" text-anchor="middle" transform="translate(1002.5 1939.0) scale(1 1.06) translate(-1002.5 -1939.0)" >0.56</text>
<text x="1086.0" y="1939.0" font-size="22.4" font-weight="bold" text-anchor="middle" transform="translate(1086.0 1939.0) scale(1 1.06) translate(-1086.0 -1939.0)" >1.67</text>
<text x="1169.4" y="1939.0" font-size="22.4" font-weight="bold" text-anchor="middle" transform="translate(1169.4 1939.0) scale(1 1.06) translate(-1169.4 -1939.0)" >5</text>
<text x="1003.0" y="1975.2" font-size="24" font-weight="bold" text-anchor="middle" textLength="173.0" lengthAdjust="spacingAndGlyphs" transform="translate(1003.0 1975.2) scale(1 1.06) translate(-1003.0 -1975.2)" >Substrate (mM)</text>
<text x="687.9" y="1753.0" font-size="24" font-weight="bold" text-anchor="middle" textLength="117.5" lengthAdjust="spacingAndGlyphs" transform="rotate(-90 687.9 1753.0) translate(687.9 1753.0) scale(1 1.06) translate(-687.9 -1753.0)" >ATP (RLU)</text>
<text x="1003.2" y="1565.0" font-size="28.5" font-weight="bold" text-anchor="middle" transform="translate(1003.2 1565.0) scale(1 1.06) translate(-1003.2 -1565.0)" >NDPK</text>
<polyline points="836.1,1900.7 919.5,1884.3 1002.5,1857.6 1086.0,1794.2 1169.4,1672.0" fill="none" stroke="#000" stroke-width="2.7" stroke-linejoin="round" />
<polyline points="836.1,1900.7 919.5,1883.5 1002.5,1857.0 1086.0,1793.0 1169.4,1664.1" fill="none" stroke="#7030a0" stroke-width="2.7" stroke-linejoin="round" />
<polyline points="836.1,1900.7 919.5,1884.3 1002.5,1858.6 1086.0,1794.6 1169.4,1672.0" fill="none" stroke="#a9a9a9" stroke-width="2.7" stroke-linejoin="round" />
<polyline points="836.1,1900.7 919.5,1883.0 1002.5,1856.0 1086.0,1792.0 1169.4,1657.1" fill="none" stroke="#c595d1" stroke-width="2.7" stroke-linejoin="round" />
<circle cx="836.1" cy="1900.7" r="6.2" fill="#000"/>
<circle cx="919.5" cy="1884.3" r="6.2" fill="#000"/>
<circle cx="1002.5" cy="1857.6" r="6.2" fill="#000"/>
<circle cx="1086.0" cy="1794.2" r="6.2" fill="#000"/>
<circle cx="1169.4" cy="1672.0" r="6.2" fill="#000"/>
<rect x="829.9" y="1894.5" width="12.4" height="12.4" fill="#7030a0" stroke="none" stroke-width="1" />
<rect x="913.3" y="1877.3" width="12.4" height="12.4" fill="#7030a0" stroke="none" stroke-width="1" />
<rect x="996.3" y="1850.8" width="12.4" height="12.4" fill="#7030a0" stroke="none" stroke-width="1" />
<rect x="1079.8" y="1786.8" width="12.4" height="12.4" fill="#7030a0" stroke="none" stroke-width="1" />
<rect x="1163.2" y="1657.9" width="12.4" height="12.4" fill="#7030a0" stroke="none" stroke-width="1" />
<polygon points="836.1,1893.7 829.6,1906.2 842.6,1906.2" fill="#a9a9a9"/>
<polygon points="919.5,1877.3 913.0,1889.8 926.0,1889.8" fill="#a9a9a9"/>
<polygon points="1002.5,1851.6 996.0,1864.1 1009.0,1864.1" fill="#a9a9a9"/>
<polygon points="1086.0,1787.6 1079.5,1800.1 1092.5,1800.1" fill="#a9a9a9"/>
<polygon points="1169.4,1665.0 1162.9,1677.5 1175.9,1677.5" fill="#a9a9a9"/>
<polygon points="836.1,1907.7 829.6,1895.2 842.6,1895.2" fill="#c595d1"/>
<polygon points="919.5,1890.0 913.0,1877.5 926.0,1877.5" fill="#c595d1"/>
<polygon points="1002.5,1863.0 996.0,1850.5 1009.0,1850.5" fill="#c595d1"/>
<polygon points="1086.0,1799.0 1079.5,1786.5 1092.5,1786.5" fill="#c595d1"/>
<line x1="1169.4" y1="1651.1" x2="1169.4" y2="1663.1" stroke="#c595d1" stroke-width="1.8" />
<line x1="1162.9" y1="1651.1" x2="1175.9" y2="1651.1" stroke="#c595d1" stroke-width="1.8" />
<line x1="1162.9" y1="1663.1" x2="1175.9" y2="1663.1" stroke="#c595d1" stroke-width="1.8" />
<polygon points="1169.4,1664.1 1162.9,1651.6 1175.9,1651.6" fill="#c595d1"/>
<line x1="794.9" y1="1644.6" x2="829.0" y2="1644.6" stroke="#000" stroke-width="2.8" />
<circle cx="812.0" cy="1644.6" r="6.2" fill="#000"/>
<text x="845.8" y="1651.2" font-size="18.5" transform="translate(845.8 1651.2) scale(1 1.06) translate(-845.8 -1651.2)" >NDPK</text>
<line x1="794.9" y1="1671.6" x2="829.0" y2="1671.6" stroke="#7030a0" stroke-width="2.8" />
<rect x="805.8" y="1665.4" width="12.4" height="12.4" fill="#7030a0" stroke="none" stroke-width="1" />
<text x="845.8" y="1678.2" font-size="18.5" textLength="98.0" lengthAdjust="spacingAndGlyphs" transform="translate(845.8 1678.2) scale(1 1.06) translate(-845.8 -1678.2)" >NDPK ADK</text>
<line x1="794.9" y1="1701.0" x2="829.0" y2="1701.0" stroke="#a9a9a9" stroke-width="2.8" />
<polygon points="812.0,1694.0 805.5,1706.5 818.5,1706.5" fill="#a9a9a9"/>
<text x="845.8" y="1707.6" font-size="18.5" textLength="110.0" lengthAdjust="spacingAndGlyphs" transform="translate(845.8 1707.6) scale(1 1.06) translate(-845.8 -1707.6)" >NDPK FABP4</text>
<line x1="794.9" y1="1729.6" x2="829.0" y2="1729.6" stroke="#c595d1" stroke-width="2.8" />
<polygon points="812.0,1736.6 805.5,1724.1 818.5,1724.1" fill="#c595d1"/>
<text x="845.8" y="1736.2" font-size="18.5" textLength="150.0" lengthAdjust="spacingAndGlyphs" transform="translate(845.8 1736.2) scale(1 1.06) translate(-845.8 -1736.2)" >NDPK ADK FABP4</text>
<line x1="1457.3" y1="1603.0" x2="1457.3" y2="1903.1" stroke="#000" stroke-width="3.0" />
<line x1="1444.8" y1="1901.6" x2="1902.7" y2="1901.6" stroke="#000" stroke-width="3.0" />
<line x1="1444.8" y1="1604.5" x2="1457.3" y2="1604.5" stroke="#000" stroke-width="3.0" />
<text x="1439.6" y="1612.2" font-size="22.4" font-weight="bold" text-anchor="end" transform="translate(1439.6 1612.2) scale(1 1.06) translate(-1439.6 -1612.2)" >6000</text>
<line x1="1444.8" y1="1703.5" x2="1457.3" y2="1703.5" stroke="#000" stroke-width="3.0" />
<text x="1439.6" y="1711.2" font-size="22.4" font-weight="bold" text-anchor="end" transform="translate(1439.6 1711.2) scale(1 1.06) translate(-1439.6 -1711.2)" >4000</text>
<line x1="1444.8" y1="1802.6" x2="1457.3" y2="1802.6" stroke="#000" stroke-width="3.0" />
<text x="1439.6" y="1810.3" font-size="22.4" font-weight="bold" text-anchor="end" transform="translate(1439.6 1810.3) scale(1 1.06) translate(-1439.6 -1810.3)" >2000</text>
<line x1="1444.8" y1="1901.6" x2="1457.3" y2="1901.6" stroke="#000" stroke-width="3.0" />
<text x="1439.6" y="1909.3" font-size="22.4" font-weight="bold" text-anchor="end" transform="translate(1439.6 1909.3) scale(1 1.06) translate(-1439.6 -1909.3)" >0</text>
<line x1="1513.3" y1="1901.6" x2="1513.3" y2="1915.1" stroke="#000" stroke-width="3.0" />
<line x1="1597.1" y1="1901.6" x2="1597.1" y2="1915.1" stroke="#000" stroke-width="3.0" />
<line x1="1680.6" y1="1901.6" x2="1680.6" y2="1915.1" stroke="#000" stroke-width="3.0" />
<line x1="1764.0" y1="1901.6" x2="1764.0" y2="1915.1" stroke="#000" stroke-width="3.0" />
<line x1="1847.8" y1="1901.6" x2="1847.8" y2="1915.1" stroke="#000" stroke-width="3.0" />
<text x="1513.3" y="1939.0" font-size="22.4" font-weight="bold" text-anchor="middle" transform="translate(1513.3 1939.0) scale(1 1.06) translate(-1513.3 -1939.0)" >0</text>
<text x="1597.1" y="1939.0" font-size="22.4" font-weight="bold" text-anchor="middle" transform="translate(1597.1 1939.0) scale(1 1.06) translate(-1597.1 -1939.0)" >0.19</text>
<text x="1680.6" y="1939.0" font-size="22.4" font-weight="bold" text-anchor="middle" transform="translate(1680.6 1939.0) scale(1 1.06) translate(-1680.6 -1939.0)" >0.56</text>
<text x="1764.0" y="1939.0" font-size="22.4" font-weight="bold" text-anchor="middle" transform="translate(1764.0 1939.0) scale(1 1.06) translate(-1764.0 -1939.0)" >1.67</text>
<text x="1847.8" y="1939.0" font-size="22.4" font-weight="bold" text-anchor="middle" transform="translate(1847.8 1939.0) scale(1 1.06) translate(-1847.8 -1939.0)" >5</text>
<text x="1681.0" y="1975.2" font-size="24" font-weight="bold" text-anchor="middle" textLength="173.0" lengthAdjust="spacingAndGlyphs" transform="translate(1681.0 1975.2) scale(1 1.06) translate(-1681.0 -1975.2)" >Substrate (mM)</text>
<text x="1375.8" y="1753.0" font-size="24" font-weight="bold" text-anchor="middle" textLength="117.5" lengthAdjust="spacingAndGlyphs" transform="rotate(-90 1375.8 1753.0) translate(1375.8 1753.0) scale(1 1.06) translate(-1375.8 -1753.0)" >ATP (RLU)</text>
<text x="1680.5" y="1565.0" font-size="28.5" font-weight="bold" text-anchor="middle" transform="translate(1680.5 1565.0) scale(1 1.06) translate(-1680.5 -1565.0)" >ADK</text>
<polyline points="1513.3,1869.8 1597.1,1718.2 1680.6,1663.8 1764.0,1684.5 1847.8,1746.4" fill="none" stroke="#000" stroke-width="2.7" stroke-linejoin="round" />
<polyline points="1513.3,1869.0 1597.1,1761.7 1680.6,1686.5 1764.0,1679.8 1847.8,1750.3" fill="none" stroke="#7030a0" stroke-width="2.7" stroke-linejoin="round" />
<polyline points="1513.3,1872.0 1597.1,1691.2 1680.6,1635.5 1764.0,1640.6 1847.8,1693.5" fill="none" stroke="#a9a9a9" stroke-width="2.7" stroke-linejoin="round" />
<circle cx="1513.3" cy="1869.8" r="6.2" fill="#000"/>
<line x1="1597.1" y1="1708.2" x2="1597.1" y2="1728.2" stroke="#000" stroke-width="1.8" />
<line x1="1590.6" y1="1708.2" x2="1603.6" y2="1708.2" stroke="#000" stroke-width="1.8" />
<line x1="1590.6" y1="1728.2" x2="1603.6" y2="1728.2" stroke="#000" stroke-width="1.8" />
<circle cx="1597.1" cy="1718.2" r="6.2" fill="#000"/>
<line x1="1680.6" y1="1650.8" x2="1680.6" y2="1676.8" stroke="#000" stroke-width="1.8" />
<line x1="1674.1" y1="1650.8" x2="1687.1" y2="1650.8" stroke="#000" stroke-width="1.8" />
<line x1="1674.1" y1="1676.8" x2="1687.1" y2="1676.8" stroke="#000" stroke-width="1.8" />
<circle cx="1680.6" cy="1663.8" r="6.2" fill="#000"/>
<line x1="1764.0" y1="1678.5" x2="1764.0" y2="1690.5" stroke="#000" stroke-width="1.8" />
<line x1="1757.5" y1="1678.5" x2="1770.5" y2="1678.5" stroke="#000" stroke-width="1.8" />
<line x1="1757.5" y1="1690.5" x2="1770.5" y2="1690.5" stroke="#000" stroke-width="1.8" />
<circle cx="1764.0" cy="1684.5" r="6.2" fill="#000"/>
<line x1="1847.8" y1="1740.4" x2="1847.8" y2="1752.4" stroke="#000" stroke-width="1.8" />
<line x1="1841.3" y1="1740.4" x2="1854.3" y2="1740.4" stroke="#000" stroke-width="1.8" />
<line x1="1841.3" y1="1752.4" x2="1854.3" y2="1752.4" stroke="#000" stroke-width="1.8" />
<circle cx="1847.8" cy="1746.4" r="6.2" fill="#000"/>
<rect x="1507.1" y="1862.8" width="12.4" height="12.4" fill="#7030a0" stroke="none" stroke-width="1" />
<line x1="1597.1" y1="1751.7" x2="1597.1" y2="1771.7" stroke="#7030a0" stroke-width="1.8" />
<line x1="1590.6" y1="1751.7" x2="1603.6" y2="1751.7" stroke="#7030a0" stroke-width="1.8" />
<line x1="1590.6" y1="1771.7" x2="1603.6" y2="1771.7" stroke="#7030a0" stroke-width="1.8" />
<rect x="1590.9" y="1755.5" width="12.4" height="12.4" fill="#7030a0" stroke="none" stroke-width="1" />
<line x1="1680.6" y1="1662.5" x2="1680.6" y2="1710.5" stroke="#7030a0" stroke-width="1.8" />
<line x1="1674.1" y1="1662.5" x2="1687.1" y2="1662.5" stroke="#7030a0" stroke-width="1.8" />
<line x1="1674.1" y1="1710.5" x2="1687.1" y2="1710.5" stroke="#7030a0" stroke-width="1.8" />
<rect x="1674.4" y="1680.3" width="12.4" height="12.4" fill="#7030a0" stroke="none" stroke-width="1" />
<line x1="1764.0" y1="1671.8" x2="1764.0" y2="1687.8" stroke="#7030a0" stroke-width="1.8" />
<line x1="1757.5" y1="1671.8" x2="1770.5" y2="1671.8" stroke="#7030a0" stroke-width="1.8" />
<line x1="1757.5" y1="1687.8" x2="1770.5" y2="1687.8" stroke="#7030a0" stroke-width="1.8" />
<rect x="1757.8" y="1673.6" width="12.4" height="12.4" fill="#7030a0" stroke="none" stroke-width="1" />
<line x1="1847.8" y1="1735.3" x2="1847.8" y2="1765.3" stroke="#7030a0" stroke-width="1.8" />
<line x1="1841.3" y1="1735.3" x2="1854.3" y2="1735.3" stroke="#7030a0" stroke-width="1.8" />
<line x1="1841.3" y1="1765.3" x2="1854.3" y2="1765.3" stroke="#7030a0" stroke-width="1.8" />
<rect x="1841.6" y="1744.1" width="12.4" height="12.4" fill="#7030a0" stroke="none" stroke-width="1" />
<polygon points="1513.3,1865.0 1506.8,1877.5 1519.8,1877.5" fill="#a9a9a9"/>
<line x1="1597.1" y1="1687.2" x2="1597.1" y2="1695.2" stroke="#a9a9a9" stroke-width="1.8" />
<line x1="1590.6" y1="1687.2" x2="1603.6" y2="1687.2" stroke="#a9a9a9" stroke-width="1.8" />
<line x1="1590.6" y1="1695.2" x2="1603.6" y2="1695.2" stroke="#a9a9a9" stroke-width="1.8" />
<polygon points="1597.1,1684.2 1590.6,1696.7 1603.6,1696.7" fill="#a9a9a9"/>
<line x1="1680.6" y1="1620.5" x2="1680.6" y2="1650.5" stroke="#a9a9a9" stroke-width="1.8" />
<line x1="1674.1" y1="1620.5" x2="1687.1" y2="1620.5" stroke="#a9a9a9" stroke-width="1.8" />
<line x1="1674.1" y1="1650.5" x2="1687.1" y2="1650.5" stroke="#a9a9a9" stroke-width="1.8" />
<polygon points="1680.6,1628.5 1674.1,1641.0 1687.1,1641.0" fill="#a9a9a9"/>
<line x1="1764.0" y1="1632.6" x2="1764.0" y2="1648.6" stroke="#a9a9a9" stroke-width="1.8" />
<line x1="1757.5" y1="1632.6" x2="1770.5" y2="1632.6" stroke="#a9a9a9" stroke-width="1.8" />
<line x1="1757.5" y1="1648.6" x2="1770.5" y2="1648.6" stroke="#a9a9a9" stroke-width="1.8" />
<polygon points="1764.0,1633.6 1757.5,1646.1 1770.5,1646.1" fill="#a9a9a9"/>
<line x1="1847.8" y1="1690.5" x2="1847.8" y2="1696.5" stroke="#a9a9a9" stroke-width="1.8" />
<line x1="1841.3" y1="1690.5" x2="1854.3" y2="1690.5" stroke="#a9a9a9" stroke-width="1.8" />
<line x1="1841.3" y1="1696.5" x2="1854.3" y2="1696.5" stroke="#a9a9a9" stroke-width="1.8" />
<polygon points="1847.8,1686.5 1841.3,1699.0 1854.3,1699.0" fill="#a9a9a9"/>
<line x1="1637.5" y1="1787.5" x2="1671.6" y2="1787.5" stroke="#000" stroke-width="2.8" />
<circle cx="1654.5" cy="1787.5" r="6.2" fill="#000"/>
<text x="1688.4" y="1794.1" font-size="18.5" transform="translate(1688.4 1794.1) scale(1 1.06) translate(-1688.4 -1794.1)" >ADK</text>
<line x1="1637.5" y1="1816.9" x2="1671.6" y2="1816.9" stroke="#7030a0" stroke-width="2.8" />
<rect x="1648.3" y="1810.7" width="12.4" height="12.4" fill="#7030a0" stroke="none" stroke-width="1" />
<text x="1688.4" y="1823.5" font-size="18.5" textLength="79.0" lengthAdjust="spacingAndGlyphs" transform="translate(1688.4 1823.5) scale(1 1.06) translate(-1688.4 -1823.5)" >ADK a-Ab</text>
<line x1="1637.5" y1="1846.3" x2="1671.6" y2="1846.3" stroke="#a9a9a9" stroke-width="2.8" />
<polygon points="1654.5,1839.3 1648.0,1851.8 1661.0,1851.8" fill="#a9a9a9"/>
<text x="1688.4" y="1852.9" font-size="18.5" textLength="79.0" lengthAdjust="spacingAndGlyphs" transform="translate(1688.4 1852.9) scale(1 1.06) translate(-1688.4 -1852.9)" >ADK c-Ab</text>
<line x1="127.8" y1="2139.3" x2="127.8" y2="2439.2" stroke="#000" stroke-width="3.0" />
<line x1="115.3" y1="2437.7" x2="572.7" y2="2437.7" stroke="#000" stroke-width="3.0" />
<line x1="115.3" y1="2140.8" x2="127.8" y2="2140.8" stroke="#000" stroke-width="3.0" />
<text x="110.1" y="2148.5" font-size="22.4" font-weight="bold" text-anchor="end" transform="translate(110.1 2148.5) scale(1 1.06) translate(-110.1 -2148.5)" >400000</text>
<line x1="115.3" y1="2215.0" x2="127.8" y2="2215.0" stroke="#000" stroke-width="3.0" />
<text x="110.1" y="2222.7" font-size="22.4" font-weight="bold" text-anchor="end" transform="translate(110.1 2222.7) scale(1 1.06) translate(-110.1 -2222.7)" >300000</text>
<line x1="115.3" y1="2289.2" x2="127.8" y2="2289.2" stroke="#000" stroke-width="3.0" />
<text x="110.1" y="2296.9" font-size="22.4" font-weight="bold" text-anchor="end" transform="translate(110.1 2296.9) scale(1 1.06) translate(-110.1 -2296.9)" >200000</text>
<line x1="115.3" y1="2363.5" x2="127.8" y2="2363.5" stroke="#000" stroke-width="3.0" />
<text x="110.1" y="2371.2" font-size="22.4" font-weight="bold" text-anchor="end" transform="translate(110.1 2371.2) scale(1 1.06) translate(-110.1 -2371.2)" >100000</text>
<line x1="115.3" y1="2437.7" x2="127.8" y2="2437.7" stroke="#000" stroke-width="3.0" />
<text x="110.1" y="2445.4" font-size="22.4" font-weight="bold" text-anchor="end" transform="translate(110.1 2445.4) scale(1 1.06) translate(-110.1 -2445.4)" >0</text>
<line x1="183.3" y1="2437.7" x2="183.3" y2="2451.2" stroke="#000" stroke-width="3.0" />
<line x1="266.4" y1="2437.7" x2="266.4" y2="2451.2" stroke="#000" stroke-width="3.0" />
<line x1="349.8" y1="2437.7" x2="349.8" y2="2451.2" stroke="#000" stroke-width="3.0" />
<line x1="433.6" y1="2437.7" x2="433.6" y2="2451.2" stroke="#000" stroke-width="3.0" />
<line x1="517.0" y1="2437.7" x2="517.0" y2="2451.2" stroke="#000" stroke-width="3.0" />
<text x="183.3" y="2475.1" font-size="22.4" font-weight="bold" text-anchor="middle" transform="translate(183.3 2475.1) scale(1 1.06) translate(-183.3 -2475.1)" >0</text>
<text x="266.4" y="2475.1" font-size="22.4" font-weight="bold" text-anchor="middle" transform="translate(266.4 2475.1) scale(1 1.06) translate(-266.4 -2475.1)" >0.19</text>
<text x="349.8" y="2475.1" font-size="22.4" font-weight="bold" text-anchor="middle" transform="translate(349.8 2475.1) scale(1 1.06) translate(-349.8 -2475.1)" >0.56</text>
<text x="433.6" y="2475.1" font-size="22.4" font-weight="bold" text-anchor="middle" transform="translate(433.6 2475.1) scale(1 1.06) translate(-433.6 -2475.1)" >1.67</text>
<text x="517.0" y="2475.1" font-size="22.4" font-weight="bold" text-anchor="middle" transform="translate(517.0 2475.1) scale(1 1.06) translate(-517.0 -2475.1)" >5</text>
<text x="350.6" y="2511.3" font-size="24" font-weight="bold" text-anchor="middle" textLength="173.0" lengthAdjust="spacingAndGlyphs" transform="translate(350.6 2511.3) scale(1 1.06) translate(-350.6 -2511.3)" >Substrate (mM)</text>
<text x="22.3" y="2288.7" font-size="24" font-weight="bold" text-anchor="middle" textLength="121.5" lengthAdjust="spacingAndGlyphs" transform="rotate(-90 22.3 2288.7) translate(22.3 2288.7) scale(1 1.06) translate(-22.3 -2288.7)" >ADP (RLU)</text>
<text x="351.0" y="2100.7" font-size="28.5" font-weight="bold" text-anchor="middle" transform="translate(351.0 2100.7) scale(1 1.06) translate(-351.0 -2100.7)" >NDPK</text>
<polyline points="183.3,2436.8 266.4,2427.8 349.8,2404.3 433.6,2331.8 517.0,2201.4" fill="none" stroke="#000" stroke-width="2.7" stroke-linejoin="round" />
<polyline points="183.3,2436.8 266.4,2427.0 349.8,2408.2 433.6,2343.6 517.0,2245.6" fill="none" stroke="#7030a0" stroke-width="2.7" stroke-linejoin="round" />
<polyline points="183.3,2436.8 266.4,2433.7 349.8,2404.3 433.6,2329.9 517.0,2233.9" fill="none" stroke="#a9a9a9" stroke-width="2.7" stroke-linejoin="round" />
<circle cx="183.3" cy="2436.8" r="6.2" fill="#000"/>
<circle cx="266.4" cy="2427.8" r="6.2" fill="#000"/>
<circle cx="349.8" cy="2404.3" r="6.2" fill="#000"/>
<circle cx="433.6" cy="2331.8" r="6.2" fill="#000"/>
<line x1="517.0" y1="2190.4" x2="517.0" y2="2212.4" stroke="#000" stroke-width="1.8" />
<line x1="510.5" y1="2190.4" x2="523.5" y2="2190.4" stroke="#000" stroke-width="1.8" />
<line x1="510.5" y1="2212.4" x2="523.5" y2="2212.4" stroke="#000" stroke-width="1.8" />
<circle cx="517.0" cy="2201.4" r="6.2" fill="#000"/>
<rect x="177.1" y="2430.6" width="12.4" height="12.4" fill="#7030a0" stroke="none" stroke-width="1" />
<rect x="260.2" y="2420.8" width="12.4" height="12.4" fill="#7030a0" stroke="none" stroke-width="1" />
<rect x="343.6" y="2402.0" width="12.4" height="12.4" fill="#7030a0" stroke="none" stroke-width="1" />
<rect x="427.4" y="2337.4" width="12.4" height="12.4" fill="#7030a0" stroke="none" stroke-width="1" />
<line x1="517.0" y1="2229.6" x2="517.0" y2="2261.6" stroke="#7030a0" stroke-width="1.8" />
<line x1="510.5" y1="2229.6" x2="523.5" y2="2229.6" stroke="#7030a0" stroke-width="1.8" />
<line x1="510.5" y1="2261.6" x2="523.5" y2="2261.6" stroke="#7030a0" stroke-width="1.8" />
<rect x="510.8" y="2239.4" width="12.4" height="12.4" fill="#7030a0" stroke="none" stroke-width="1" />
<polygon points="183.3,2429.8 176.8,2442.3 189.8,2442.3" fill="#a9a9a9"/>
<polygon points="266.4,2426.7 259.9,2439.2 272.9,2439.2" fill="#a9a9a9"/>
<polygon points="349.8,2397.3 343.3,2409.8 356.3,2409.8" fill="#a9a9a9"/>
<line x1="433.6" y1="2323.9" x2="433.6" y2="2335.9" stroke="#a9a9a9" stroke-width="1.8" />
<line x1="427.1" y1="2323.9" x2="440.1" y2="2323.9" stroke="#a9a9a9" stroke-width="1.8" />
<line x1="427.1" y1="2335.9" x2="440.1" y2="2335.9" stroke="#a9a9a9" stroke-width="1.8" />
<polygon points="433.6,2322.9 427.1,2335.4 440.1,2335.4" fill="#a9a9a9"/>
<line x1="517.0" y1="2214.9" x2="517.0" y2="2252.9" stroke="#a9a9a9" stroke-width="1.8" />
<line x1="510.5" y1="2214.9" x2="523.5" y2="2214.9" stroke="#a9a9a9" stroke-width="1.8" />
<line x1="510.5" y1="2252.9" x2="523.5" y2="2252.9" stroke="#a9a9a9" stroke-width="1.8" />
<polygon points="517.0,2226.9 510.5,2239.4 523.5,2239.4" fill="#a9a9a9"/>
<line x1="144.9" y1="2145.0" x2="179.0" y2="2145.0" stroke="#000" stroke-width="2.8" />
<circle cx="161.9" cy="2145.0" r="6.2" fill="#000"/>
<text x="195.8" y="2151.6" font-size="18.5" transform="translate(195.8 2151.6) scale(1 1.06) translate(-195.8 -2151.6)" >NDPK</text>
<line x1="144.9" y1="2172.0" x2="179.0" y2="2172.0" stroke="#7030a0" stroke-width="2.8" />
<rect x="155.8" y="2165.8" width="12.4" height="12.4" fill="#7030a0" stroke="none" stroke-width="1" />
<text x="195.8" y="2178.6" font-size="18.5" textLength="92.0" lengthAdjust="spacingAndGlyphs" transform="translate(195.8 2178.6) scale(1 1.06) translate(-195.8 -2178.6)" >NDPK a-Ab</text>
<line x1="144.9" y1="2199.4" x2="179.0" y2="2199.4" stroke="#a9a9a9" stroke-width="2.8" />
<polygon points="161.9,2192.4 155.4,2204.9 168.4,2204.9" fill="#a9a9a9"/>
<text x="195.8" y="2206.0" font-size="18.5" textLength="92.0" lengthAdjust="spacingAndGlyphs" transform="translate(195.8 2206.0) scale(1 1.06) translate(-195.8 -2206.0)" >NDPK c-Ab</text>
<text x="0" y="0" font-size="100" font-weight="bold" transform="matrix(0.44167 0 0 0.47458 57.66 33.44)">a</text>
<text x="0" y="0" font-size="100" font-weight="bold" transform="matrix(0.48422 0 0 0.47523 714.71 34.44)">b</text>
<text x="0" y="0" font-size="100" font-weight="bold" transform="matrix(0.47561 0 0 0.47093 1359.24 33.24)">c</text>
<text x="0" y="0" font-size="100" font-weight="bold" transform="matrix(0.44651 0 0 0.43302 59.17 501.48)">d</text>
<text x="0" y="0" font-size="100" font-weight="bold" transform="matrix(0.45143 0 0 0.43807 716.54 503.97)">e</text>
<text x="0" y="0" font-size="100" font-weight="bold" transform="matrix(0.48762 0 0 0.43610 1389.57 522.70)">f</text>
<text x="0" y="0" font-size="100" font-weight="bold" transform="matrix(0.44141 0 0 0.42905 66.29 1091.91)">g</text>
<text x="0" y="0" font-size="100" font-weight="bold" transform="matrix(0.43841 0 0 0.43610 741.44 1094.70)">h</text>
<text x="0" y="0" font-size="100" font-weight="bold" transform="matrix(0.42272 0 0 0.43058 1417.05 1094.50)">i</text>
<text x="0" y="0" font-size="100" font-weight="bold" transform="matrix(0.52432 0 0 0.44951 26.92 1569.47)">j</text>
<text x="0" y="0" font-size="100" font-weight="bold" transform="matrix(0.47198 0 0 0.46922 672.80 1570.70)">k</text>
<text x="0" y="0" font-size="100" font-weight="bold" transform="matrix(0.45187 0 0 0.46922 1360.64 1562.10)">l</text>
<text x="0" y="0" font-size="100" font-weight="bold" transform="matrix(0.44270 0 0 0.43448 45.38 2102.70)">m</text>
</svg>
</body></html>
